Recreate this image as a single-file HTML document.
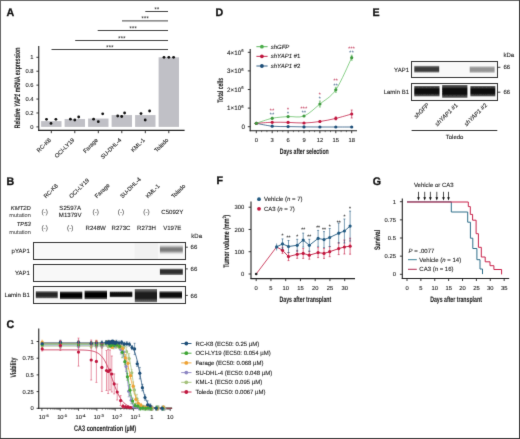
<!DOCTYPE html>
<html><head><meta charset="utf-8"><style>
html,body{margin:0;padding:0;background:#fff;}
body{width:520px;height:439px;overflow:hidden;}
svg{display:block;font-family:"Liberation Sans",sans-serif;will-change:transform;text-rendering:geometricPrecision;}
</style></head><body>
<svg width="520" height="439" viewBox="0 0 520 439">
<defs><filter id="soft" x="0" y="0" width="520" height="439" filterUnits="userSpaceOnUse" color-interpolation-filters="sRGB"><feConvolveMatrix order="3" kernelMatrix="0.00810 0.07380 0.00810 0.07380 0.67240 0.07380 0.00810 0.07380 0.00810" divisor="1" edgeMode="duplicate" preserveAlpha="true"/></filter><filter id="bl" x="-10%" y="-50%" width="120%" height="200%"><feGaussianBlur stdDeviation="0.5 0.8"/></filter><filter id="bl2" x="-10%" y="-50%" width="120%" height="200%"><feGaussianBlur stdDeviation="0.4 0.45"/></filter><linearGradient id="g0" x1="0" y1="0" x2="0" y2="1"><stop offset="0" stop-color="#767676" stop-opacity="0.35"/><stop offset="0.3" stop-color="#767676" stop-opacity="1"/><stop offset="0.7" stop-color="#767676" stop-opacity="1"/><stop offset="1" stop-color="#767676" stop-opacity="0.35"/></linearGradient><linearGradient id="g1" x1="0" y1="0" x2="0" y2="1"><stop offset="0" stop-color="#2e2e2e" stop-opacity="0.5"/><stop offset="0.3" stop-color="#2e2e2e" stop-opacity="1"/><stop offset="0.7" stop-color="#2e2e2e" stop-opacity="1"/><stop offset="1" stop-color="#2e2e2e" stop-opacity="0.5"/></linearGradient><linearGradient id="g2" x1="0" y1="0" x2="0" y2="1"><stop offset="0" stop-color="#262626" stop-opacity="0.55"/><stop offset="0.3" stop-color="#262626" stop-opacity="1"/><stop offset="0.7" stop-color="#262626" stop-opacity="1"/><stop offset="1" stop-color="#262626" stop-opacity="0.55"/></linearGradient><linearGradient id="g3" x1="0" y1="0" x2="0" y2="1"><stop offset="0" stop-color="#050505" stop-opacity="0.55"/><stop offset="0.3" stop-color="#050505" stop-opacity="1"/><stop offset="0.7" stop-color="#050505" stop-opacity="1"/><stop offset="1" stop-color="#050505" stop-opacity="0.55"/></linearGradient><linearGradient id="g4" x1="0" y1="0" x2="0" y2="1"><stop offset="0" stop-color="#050505" stop-opacity="0.55"/><stop offset="0.3" stop-color="#050505" stop-opacity="1"/><stop offset="0.7" stop-color="#050505" stop-opacity="1"/><stop offset="1" stop-color="#050505" stop-opacity="0.55"/></linearGradient><linearGradient id="g5" x1="0" y1="0" x2="0" y2="1"><stop offset="0" stop-color="#080808" stop-opacity="0.55"/><stop offset="0.3" stop-color="#080808" stop-opacity="1"/><stop offset="0.7" stop-color="#080808" stop-opacity="1"/><stop offset="1" stop-color="#080808" stop-opacity="0.55"/></linearGradient><linearGradient id="g6" x1="0" y1="0" x2="0" y2="1"><stop offset="0" stop-color="#1e1e1e" stop-opacity="0.55"/><stop offset="0.3" stop-color="#1e1e1e" stop-opacity="1"/><stop offset="0.7" stop-color="#1e1e1e" stop-opacity="1"/><stop offset="1" stop-color="#1e1e1e" stop-opacity="0.55"/></linearGradient><linearGradient id="g7" x1="0" y1="0" x2="0" y2="1"><stop offset="0" stop-color="#0a0a0a" stop-opacity="0.55"/><stop offset="0.3" stop-color="#0a0a0a" stop-opacity="1"/><stop offset="0.7" stop-color="#0a0a0a" stop-opacity="1"/><stop offset="1" stop-color="#0a0a0a" stop-opacity="0.55"/></linearGradient><linearGradient id="g8" x1="0" y1="0" x2="0" y2="1"><stop offset="0" stop-color="#3a3a3a" stop-opacity="0.5"/><stop offset="0.3" stop-color="#3a3a3a" stop-opacity="1"/><stop offset="0.7" stop-color="#3a3a3a" stop-opacity="1"/><stop offset="1" stop-color="#3a3a3a" stop-opacity="0.5"/></linearGradient><linearGradient id="g9" x1="0" y1="0" x2="0" y2="1"><stop offset="0" stop-color="#959595" stop-opacity="0.5"/><stop offset="0.3" stop-color="#959595" stop-opacity="1"/><stop offset="0.7" stop-color="#959595" stop-opacity="1"/><stop offset="1" stop-color="#959595" stop-opacity="0.5"/></linearGradient><linearGradient id="g10" x1="0" y1="0" x2="0" y2="1"><stop offset="0" stop-color="#080808" stop-opacity="0.55"/><stop offset="0.3" stop-color="#080808" stop-opacity="1"/><stop offset="0.7" stop-color="#080808" stop-opacity="1"/><stop offset="1" stop-color="#080808" stop-opacity="0.55"/></linearGradient><linearGradient id="g11" x1="0" y1="0" x2="0" y2="1"><stop offset="0" stop-color="#080808" stop-opacity="0.55"/><stop offset="0.3" stop-color="#080808" stop-opacity="1"/><stop offset="0.7" stop-color="#080808" stop-opacity="1"/><stop offset="1" stop-color="#080808" stop-opacity="0.55"/></linearGradient><linearGradient id="g12" x1="0" y1="0" x2="0" y2="1"><stop offset="0" stop-color="#080808" stop-opacity="0.55"/><stop offset="0.3" stop-color="#080808" stop-opacity="1"/><stop offset="0.7" stop-color="#080808" stop-opacity="1"/><stop offset="1" stop-color="#080808" stop-opacity="0.55"/></linearGradient></defs>
<g filter="url(#soft)">
<rect x="0" y="0" width="520" height="439" fill="#fff"/>
<text x="0.00" y="0.00" font-size="11" text-anchor="start" fill="#111" font-weight="bold" font-style="normal" transform="translate(6.40,15.90) scale(0.97,1)" stroke="#111" stroke-width="0.3">A</text>
<line x1="38.75" y1="46.00" x2="38.75" y2="130.90" stroke="#222" stroke-width="1.1"/>
<line x1="38.20" y1="130.40" x2="184.60" y2="130.40" stroke="#222" stroke-width="1.1"/>
<line x1="36.40" y1="126.90" x2="38.80" y2="126.90" stroke="#222" stroke-width="0.9"/>
<text x="33.60" y="129.00" font-size="5.8" text-anchor="end" fill="#222" font-weight="normal" font-style="normal" stroke="#222" stroke-width="0.1">0</text>
<line x1="36.40" y1="112.98" x2="38.80" y2="112.98" stroke="#222" stroke-width="0.9"/>
<text x="33.60" y="115.08" font-size="5.8" text-anchor="end" fill="#222" font-weight="normal" font-style="normal" stroke="#222" stroke-width="0.1">0.2</text>
<line x1="36.40" y1="99.06" x2="38.80" y2="99.06" stroke="#222" stroke-width="0.9"/>
<text x="33.60" y="101.16" font-size="5.8" text-anchor="end" fill="#222" font-weight="normal" font-style="normal" stroke="#222" stroke-width="0.1">0.4</text>
<line x1="36.40" y1="85.14" x2="38.80" y2="85.14" stroke="#222" stroke-width="0.9"/>
<text x="33.60" y="87.24" font-size="5.8" text-anchor="end" fill="#222" font-weight="normal" font-style="normal" stroke="#222" stroke-width="0.1">0.6</text>
<line x1="36.40" y1="71.22" x2="38.80" y2="71.22" stroke="#222" stroke-width="0.9"/>
<text x="33.60" y="73.32" font-size="5.8" text-anchor="end" fill="#222" font-weight="normal" font-style="normal" stroke="#222" stroke-width="0.1">0.8</text>
<line x1="36.40" y1="57.30" x2="38.80" y2="57.30" stroke="#222" stroke-width="0.9"/>
<text x="33.60" y="59.40" font-size="5.8" text-anchor="end" fill="#222" font-weight="normal" font-style="normal" stroke="#222" stroke-width="0.1">1</text>
<text x="0.00" y="0.00" font-size="8" text-anchor="middle" fill="#222" font-weight="bold" font-style="normal" transform="translate(19.60,88.00) rotate(-90) scale(0.65,1)" stroke="#222" stroke-width="0.08">Relative <tspan font-style="italic">YAP1</tspan> mRNA expression</text>
<rect x="41.10" y="121.12" width="20.40" height="5.78" fill="#c0c0c6" stroke="none" stroke-width="1"/>
<line x1="51.30" y1="130.30" x2="51.30" y2="133.20" stroke="#222" stroke-width="0.9"/>
<text x="0.00" y="0.00" font-size="5.8" text-anchor="end" fill="#222" font-weight="normal" font-style="normal" transform="translate(51.40,140.40) rotate(-45)" stroke="#222" stroke-width="0.1">RC-K8</text>
<rect x="64.60" y="119.04" width="20.40" height="7.86" fill="#c0c0c6" stroke="none" stroke-width="1"/>
<line x1="74.80" y1="130.30" x2="74.80" y2="133.20" stroke="#222" stroke-width="0.9"/>
<text x="0.00" y="0.00" font-size="5.8" text-anchor="end" fill="#222" font-weight="normal" font-style="normal" transform="translate(74.90,140.40) rotate(-45)" stroke="#222" stroke-width="0.1">OCI-LY19</text>
<rect x="88.10" y="118.55" width="20.40" height="8.35" fill="#c0c0c6" stroke="none" stroke-width="1"/>
<line x1="98.30" y1="130.30" x2="98.30" y2="133.20" stroke="#222" stroke-width="0.9"/>
<text x="0.00" y="0.00" font-size="5.8" text-anchor="end" fill="#222" font-weight="normal" font-style="normal" transform="translate(98.40,140.40) rotate(-45)" stroke="#222" stroke-width="0.1">Farage</text>
<rect x="111.60" y="115.07" width="20.40" height="11.83" fill="#c0c0c6" stroke="none" stroke-width="1"/>
<line x1="121.80" y1="130.30" x2="121.80" y2="133.20" stroke="#222" stroke-width="0.9"/>
<text x="0.00" y="0.00" font-size="5.8" text-anchor="end" fill="#222" font-weight="normal" font-style="normal" transform="translate(121.90,140.40) rotate(-45)" stroke="#222" stroke-width="0.1">SU-DHL-4</text>
<rect x="135.10" y="115.07" width="20.40" height="11.83" fill="#c0c0c6" stroke="none" stroke-width="1"/>
<line x1="145.30" y1="130.30" x2="145.30" y2="133.20" stroke="#222" stroke-width="0.9"/>
<text x="0.00" y="0.00" font-size="5.8" text-anchor="end" fill="#222" font-weight="normal" font-style="normal" transform="translate(145.40,140.40) rotate(-45)" stroke="#222" stroke-width="0.1">KML-1</text>
<rect x="158.60" y="57.30" width="20.40" height="69.60" fill="#c0c0c6" stroke="none" stroke-width="1"/>
<line x1="168.80" y1="130.30" x2="168.80" y2="133.20" stroke="#222" stroke-width="0.9"/>
<text x="0.00" y="0.00" font-size="5.8" text-anchor="end" fill="#222" font-weight="normal" font-style="normal" transform="translate(168.90,140.40) rotate(-45)" stroke="#222" stroke-width="0.1">Toledo</text>
<circle cx="46.50" cy="119.30" r="1.4" fill="#111"/>
<circle cx="51.00" cy="123.40" r="1.4" fill="#111"/>
<circle cx="55.90" cy="119.30" r="1.4" fill="#111"/>
<circle cx="70.40" cy="119.20" r="1.4" fill="#111"/>
<circle cx="74.80" cy="120.00" r="1.4" fill="#111"/>
<circle cx="78.70" cy="117.00" r="1.4" fill="#111"/>
<circle cx="93.60" cy="119.20" r="1.4" fill="#111"/>
<circle cx="98.30" cy="121.70" r="1.4" fill="#111"/>
<circle cx="102.70" cy="113.80" r="1.4" fill="#111"/>
<circle cx="117.70" cy="116.00" r="1.4" fill="#111"/>
<circle cx="121.70" cy="116.50" r="1.4" fill="#111"/>
<circle cx="124.60" cy="113.00" r="1.4" fill="#111"/>
<circle cx="141.00" cy="113.60" r="1.4" fill="#111"/>
<circle cx="145.20" cy="120.00" r="1.4" fill="#111"/>
<circle cx="149.60" cy="111.00" r="1.4" fill="#111"/>
<circle cx="164.00" cy="57.30" r="1.4" fill="#111"/>
<circle cx="168.80" cy="57.30" r="1.4" fill="#111"/>
<circle cx="173.60" cy="57.30" r="1.4" fill="#111"/>
<line x1="145.30" y1="11.50" x2="168.00" y2="11.50" stroke="#444" stroke-width="1"/>
<text x="156.95" y="10.90" font-size="5.5" text-anchor="middle" fill="#333" font-weight="normal" font-style="normal" letter-spacing="0.35" stroke="#333" stroke-width="0.1">**</text>
<line x1="122.00" y1="20.90" x2="168.00" y2="20.90" stroke="#444" stroke-width="1"/>
<text x="145.30" y="20.30" font-size="5.5" text-anchor="middle" fill="#333" font-weight="normal" font-style="normal" letter-spacing="0.35" stroke="#333" stroke-width="0.1">***</text>
<line x1="97.70" y1="30.50" x2="168.00" y2="30.50" stroke="#444" stroke-width="1"/>
<text x="133.15" y="29.90" font-size="5.5" text-anchor="middle" fill="#333" font-weight="normal" font-style="normal" letter-spacing="0.35" stroke="#333" stroke-width="0.1">***</text>
<line x1="75.20" y1="40.50" x2="168.00" y2="40.50" stroke="#444" stroke-width="1"/>
<text x="121.90" y="39.90" font-size="5.5" text-anchor="middle" fill="#333" font-weight="normal" font-style="normal" letter-spacing="0.35" stroke="#333" stroke-width="0.1">***</text>
<line x1="51.50" y1="49.50" x2="168.00" y2="49.50" stroke="#444" stroke-width="1"/>
<text x="110.05" y="48.90" font-size="5.5" text-anchor="middle" fill="#333" font-weight="normal" font-style="normal" letter-spacing="0.35" stroke="#333" stroke-width="0.1">***</text>
<text x="0.00" y="0.00" font-size="11" text-anchor="start" fill="#111" font-weight="bold" font-style="normal" transform="translate(6.40,184.50) scale(0.97,1)" stroke="#111" stroke-width="0.3">B</text>
<text x="0.00" y="0.00" font-size="5.8" text-anchor="start" fill="#222" font-weight="normal" font-style="normal" transform="translate(46.00,198.60) rotate(-45)" stroke="#222" stroke-width="0.1">RC-K8</text>
<text x="0.00" y="0.00" font-size="5.8" text-anchor="start" fill="#222" font-weight="normal" font-style="normal" transform="translate(71.60,198.60) rotate(-45)" stroke="#222" stroke-width="0.1">OCI-LY19</text>
<text x="0.00" y="0.00" font-size="5.8" text-anchor="start" fill="#222" font-weight="normal" font-style="normal" transform="translate(97.10,198.60) rotate(-45)" stroke="#222" stroke-width="0.1">Farage</text>
<text x="0.00" y="0.00" font-size="5.8" text-anchor="start" fill="#222" font-weight="normal" font-style="normal" transform="translate(122.40,198.60) rotate(-45)" stroke="#222" stroke-width="0.1">SU-DHL-4</text>
<text x="0.00" y="0.00" font-size="5.8" text-anchor="start" fill="#222" font-weight="normal" font-style="normal" transform="translate(147.90,198.60) rotate(-45)" stroke="#222" stroke-width="0.1">KML-1</text>
<text x="0.00" y="0.00" font-size="5.8" text-anchor="start" fill="#222" font-weight="normal" font-style="normal" transform="translate(173.70,198.60) rotate(-45)" stroke="#222" stroke-width="0.1">Toledo</text>
<text x="30.80" y="210.00" font-size="5.9" text-anchor="end" fill="#222" font-weight="normal" font-style="italic" stroke="#222" stroke-width="0.1">KMT2D</text>
<text x="30.80" y="217.30" font-size="5.6" text-anchor="end" fill="#555" font-weight="normal" font-style="normal" stroke="#555" stroke-width="0.1">mutation</text>
<text x="30.80" y="226.30" font-size="5.9" text-anchor="end" fill="#222" font-weight="normal" font-style="italic" stroke="#222" stroke-width="0.1">TP53</text>
<text x="30.80" y="234.30" font-size="5.6" text-anchor="end" fill="#555" font-weight="normal" font-style="normal" stroke="#555" stroke-width="0.1">mutation</text>
<text x="44.60" y="214.00" font-size="6.4" text-anchor="middle" fill="#555" font-weight="normal" font-style="normal" stroke="#555" stroke-width="0.1">(-)</text>
<text x="95.70" y="214.00" font-size="6.4" text-anchor="middle" fill="#555" font-weight="normal" font-style="normal" stroke="#555" stroke-width="0.1">(-)</text>
<text x="121.00" y="214.00" font-size="6.4" text-anchor="middle" fill="#555" font-weight="normal" font-style="normal" stroke="#555" stroke-width="0.1">(-)</text>
<text x="146.50" y="214.00" font-size="6.4" text-anchor="middle" fill="#555" font-weight="normal" font-style="normal" stroke="#555" stroke-width="0.1">(-)</text>
<text x="172.30" y="214.00" font-size="6.1" text-anchor="middle" fill="#222" font-weight="normal" font-style="normal" stroke="#222" stroke-width="0.1">C5092Y</text>
<text x="70.20" y="210.00" font-size="6.1" text-anchor="middle" fill="#222" font-weight="normal" font-style="normal" stroke="#222" stroke-width="0.1">S2597A</text>
<text x="70.20" y="217.30" font-size="6.1" text-anchor="middle" fill="#222" font-weight="normal" font-style="normal" stroke="#222" stroke-width="0.1">M1379V</text>
<text x="44.60" y="230.40" font-size="6.4" text-anchor="middle" fill="#555" font-weight="normal" font-style="normal" stroke="#555" stroke-width="0.1">(-)</text>
<text x="70.20" y="230.40" font-size="6.4" text-anchor="middle" fill="#555" font-weight="normal" font-style="normal" stroke="#555" stroke-width="0.1">(-)</text>
<text x="95.70" y="230.40" font-size="6.1" text-anchor="middle" fill="#222" font-weight="normal" font-style="normal" stroke="#222" stroke-width="0.1">R248W</text>
<text x="121.00" y="230.40" font-size="6.1" text-anchor="middle" fill="#222" font-weight="normal" font-style="normal" stroke="#222" stroke-width="0.1">R273C</text>
<text x="146.50" y="230.40" font-size="6.1" text-anchor="middle" fill="#222" font-weight="normal" font-style="normal" stroke="#222" stroke-width="0.1">R273H</text>
<text x="172.30" y="230.40" font-size="6.1" text-anchor="middle" fill="#222" font-weight="normal" font-style="normal" stroke="#222" stroke-width="0.1">V197E</text>
<rect x="33.50" y="242.50" width="152.00" height="17.00" fill="#f8f8f8" stroke="#333" stroke-width="1"/>
<text x="29.80" y="253.10" font-size="6" text-anchor="end" fill="#222" font-weight="normal" font-style="normal" stroke="#222" stroke-width="0.1">pYAP1</text>
<line x1="185.60" y1="247.20" x2="187.80" y2="247.20" stroke="#222" stroke-width="0.9"/>
<text x="190.60" y="249.30" font-size="6" text-anchor="start" fill="#222" font-weight="normal" font-style="normal" stroke="#222" stroke-width="0.1">66</text>
<rect x="33.50" y="264.50" width="152.00" height="17.00" fill="#f8f8f8" stroke="#333" stroke-width="1"/>
<text x="29.80" y="275.10" font-size="6" text-anchor="end" fill="#222" font-weight="normal" font-style="normal" stroke="#222" stroke-width="0.1">YAP1</text>
<line x1="185.60" y1="268.90" x2="187.80" y2="268.90" stroke="#222" stroke-width="0.9"/>
<text x="190.60" y="271.00" font-size="6" text-anchor="start" fill="#222" font-weight="normal" font-style="normal" stroke="#222" stroke-width="0.1">66</text>
<rect x="33.50" y="286.50" width="152.00" height="17.00" fill="#f8f8f8" stroke="#333" stroke-width="1"/>
<text x="29.80" y="297.10" font-size="6" text-anchor="end" fill="#222" font-weight="normal" font-style="normal" stroke="#222" stroke-width="0.1">Lamin B1</text>
<line x1="185.60" y1="295.40" x2="187.80" y2="295.40" stroke="#222" stroke-width="0.9"/>
<text x="190.60" y="297.50" font-size="6" text-anchor="start" fill="#222" font-weight="normal" font-style="normal" stroke="#222" stroke-width="0.1">66</text>
<text x="191.30" y="238.40" font-size="6" text-anchor="start" fill="#222" font-weight="normal" font-style="normal" stroke="#222" stroke-width="0.1">kDa</text>
<rect x="134.50" y="243.00" width="23.50" height="16.00" fill="#f1f1f1" stroke="none" stroke-width="1"/>
<rect x="159.90" y="246.00" width="22.90" height="7.00" fill="url(#g0)" stroke="none" stroke-width="1" filter="url(#bl)"/>
<rect x="159.90" y="268.60" width="22.90" height="6.40" fill="url(#g1)" stroke="none" stroke-width="1" filter="url(#bl2)"/>
<rect x="35.80" y="291.20" width="21.90" height="7.10" fill="url(#g2)" stroke="none" stroke-width="1" filter="url(#bl2)"/>
<rect x="60.00" y="291.50" width="22.30" height="7.70" fill="url(#g3)" stroke="none" stroke-width="1" filter="url(#bl2)"/>
<rect x="84.60" y="290.60" width="22.40" height="8.60" fill="url(#g4)" stroke="none" stroke-width="1" filter="url(#bl2)"/>
<rect x="109.80" y="291.50" width="22.50" height="5.70" fill="url(#g5)" stroke="none" stroke-width="1" filter="url(#bl2)"/>
<rect x="134.80" y="289.00" width="22.20" height="13.20" fill="url(#g6)" stroke="none" stroke-width="1" filter="url(#bl2)"/>
<rect x="159.50" y="291.30" width="22.50" height="7.30" fill="url(#g7)" stroke="none" stroke-width="1" filter="url(#bl2)"/>
<text x="0.00" y="0.00" font-size="11" text-anchor="start" fill="#111" font-weight="bold" font-style="normal" transform="translate(6.50,328.00) scale(0.97,1)" stroke="#111" stroke-width="0.3">C</text>
<line x1="38.75" y1="328.50" x2="38.75" y2="408.90" stroke="#222" stroke-width="1.1"/>
<line x1="38.20" y1="408.30" x2="172.20" y2="408.30" stroke="#222" stroke-width="1.1"/>
<line x1="36.60" y1="408.30" x2="39.00" y2="408.30" stroke="#222" stroke-width="0.9"/>
<text x="33.80" y="410.40" font-size="5.8" text-anchor="end" fill="#222" font-weight="normal" font-style="normal" stroke="#222" stroke-width="0.1">0</text>
<line x1="36.60" y1="391.60" x2="39.00" y2="391.60" stroke="#222" stroke-width="0.9"/>
<text x="33.80" y="393.70" font-size="5.8" text-anchor="end" fill="#222" font-weight="normal" font-style="normal" stroke="#222" stroke-width="0.1">0.25</text>
<line x1="36.60" y1="374.90" x2="39.00" y2="374.90" stroke="#222" stroke-width="0.9"/>
<text x="33.80" y="377.00" font-size="5.8" text-anchor="end" fill="#222" font-weight="normal" font-style="normal" stroke="#222" stroke-width="0.1">0.5</text>
<line x1="36.60" y1="358.20" x2="39.00" y2="358.20" stroke="#222" stroke-width="0.9"/>
<text x="33.80" y="360.30" font-size="5.8" text-anchor="end" fill="#222" font-weight="normal" font-style="normal" stroke="#222" stroke-width="0.1">0.75</text>
<line x1="36.60" y1="341.50" x2="39.00" y2="341.50" stroke="#222" stroke-width="0.9"/>
<text x="33.80" y="343.60" font-size="5.8" text-anchor="end" fill="#222" font-weight="normal" font-style="normal" stroke="#222" stroke-width="0.1">1</text>
<line x1="41.90" y1="408.40" x2="41.90" y2="410.80" stroke="#222" stroke-width="0.8"/>
<line x1="47.42" y1="408.40" x2="47.42" y2="409.80" stroke="#222" stroke-width="0.5"/>
<line x1="50.65" y1="408.40" x2="50.65" y2="409.80" stroke="#222" stroke-width="0.5"/>
<line x1="52.94" y1="408.40" x2="52.94" y2="409.80" stroke="#222" stroke-width="0.5"/>
<line x1="54.71" y1="408.40" x2="54.71" y2="409.80" stroke="#222" stroke-width="0.5"/>
<line x1="56.16" y1="408.40" x2="56.16" y2="409.80" stroke="#222" stroke-width="0.5"/>
<line x1="57.39" y1="408.40" x2="57.39" y2="409.80" stroke="#222" stroke-width="0.5"/>
<line x1="58.45" y1="408.40" x2="58.45" y2="409.80" stroke="#222" stroke-width="0.5"/>
<line x1="59.39" y1="408.40" x2="59.39" y2="409.80" stroke="#222" stroke-width="0.5"/>
<text x="38.80" y="419.30" font-size="5.8" text-anchor="start" fill="#222" font-weight="normal" font-style="normal" stroke="#222" stroke-width="0.1">10<tspan font-size="4" dy="-2.2">-6</tspan></text>
<line x1="60.23" y1="408.40" x2="60.23" y2="410.80" stroke="#222" stroke-width="0.8"/>
<line x1="65.75" y1="408.40" x2="65.75" y2="409.80" stroke="#222" stroke-width="0.5"/>
<line x1="68.98" y1="408.40" x2="68.98" y2="409.80" stroke="#222" stroke-width="0.5"/>
<line x1="71.27" y1="408.40" x2="71.27" y2="409.80" stroke="#222" stroke-width="0.5"/>
<line x1="73.04" y1="408.40" x2="73.04" y2="409.80" stroke="#222" stroke-width="0.5"/>
<line x1="74.49" y1="408.40" x2="74.49" y2="409.80" stroke="#222" stroke-width="0.5"/>
<line x1="75.72" y1="408.40" x2="75.72" y2="409.80" stroke="#222" stroke-width="0.5"/>
<line x1="76.78" y1="408.40" x2="76.78" y2="409.80" stroke="#222" stroke-width="0.5"/>
<line x1="77.72" y1="408.40" x2="77.72" y2="409.80" stroke="#222" stroke-width="0.5"/>
<text x="57.13" y="419.30" font-size="5.8" text-anchor="start" fill="#222" font-weight="normal" font-style="normal" stroke="#222" stroke-width="0.1">10<tspan font-size="4" dy="-2.2">-5</tspan></text>
<line x1="78.56" y1="408.40" x2="78.56" y2="410.80" stroke="#222" stroke-width="0.8"/>
<line x1="84.08" y1="408.40" x2="84.08" y2="409.80" stroke="#222" stroke-width="0.5"/>
<line x1="87.31" y1="408.40" x2="87.31" y2="409.80" stroke="#222" stroke-width="0.5"/>
<line x1="89.60" y1="408.40" x2="89.60" y2="409.80" stroke="#222" stroke-width="0.5"/>
<line x1="91.37" y1="408.40" x2="91.37" y2="409.80" stroke="#222" stroke-width="0.5"/>
<line x1="92.82" y1="408.40" x2="92.82" y2="409.80" stroke="#222" stroke-width="0.5"/>
<line x1="94.05" y1="408.40" x2="94.05" y2="409.80" stroke="#222" stroke-width="0.5"/>
<line x1="95.11" y1="408.40" x2="95.11" y2="409.80" stroke="#222" stroke-width="0.5"/>
<line x1="96.05" y1="408.40" x2="96.05" y2="409.80" stroke="#222" stroke-width="0.5"/>
<text x="75.46" y="419.30" font-size="5.8" text-anchor="start" fill="#222" font-weight="normal" font-style="normal" stroke="#222" stroke-width="0.1">10<tspan font-size="4" dy="-2.2">-4</tspan></text>
<line x1="96.89" y1="408.40" x2="96.89" y2="410.80" stroke="#222" stroke-width="0.8"/>
<line x1="102.41" y1="408.40" x2="102.41" y2="409.80" stroke="#222" stroke-width="0.5"/>
<line x1="105.64" y1="408.40" x2="105.64" y2="409.80" stroke="#222" stroke-width="0.5"/>
<line x1="107.93" y1="408.40" x2="107.93" y2="409.80" stroke="#222" stroke-width="0.5"/>
<line x1="109.70" y1="408.40" x2="109.70" y2="409.80" stroke="#222" stroke-width="0.5"/>
<line x1="111.15" y1="408.40" x2="111.15" y2="409.80" stroke="#222" stroke-width="0.5"/>
<line x1="112.38" y1="408.40" x2="112.38" y2="409.80" stroke="#222" stroke-width="0.5"/>
<line x1="113.44" y1="408.40" x2="113.44" y2="409.80" stroke="#222" stroke-width="0.5"/>
<line x1="114.38" y1="408.40" x2="114.38" y2="409.80" stroke="#222" stroke-width="0.5"/>
<text x="93.79" y="419.30" font-size="5.8" text-anchor="start" fill="#222" font-weight="normal" font-style="normal" stroke="#222" stroke-width="0.1">10<tspan font-size="4" dy="-2.2">-3</tspan></text>
<line x1="115.22" y1="408.40" x2="115.22" y2="410.80" stroke="#222" stroke-width="0.8"/>
<line x1="120.74" y1="408.40" x2="120.74" y2="409.80" stroke="#222" stroke-width="0.5"/>
<line x1="123.97" y1="408.40" x2="123.97" y2="409.80" stroke="#222" stroke-width="0.5"/>
<line x1="126.26" y1="408.40" x2="126.26" y2="409.80" stroke="#222" stroke-width="0.5"/>
<line x1="128.03" y1="408.40" x2="128.03" y2="409.80" stroke="#222" stroke-width="0.5"/>
<line x1="129.48" y1="408.40" x2="129.48" y2="409.80" stroke="#222" stroke-width="0.5"/>
<line x1="130.71" y1="408.40" x2="130.71" y2="409.80" stroke="#222" stroke-width="0.5"/>
<line x1="131.77" y1="408.40" x2="131.77" y2="409.80" stroke="#222" stroke-width="0.5"/>
<line x1="132.71" y1="408.40" x2="132.71" y2="409.80" stroke="#222" stroke-width="0.5"/>
<text x="112.12" y="419.30" font-size="5.8" text-anchor="start" fill="#222" font-weight="normal" font-style="normal" stroke="#222" stroke-width="0.1">10<tspan font-size="4" dy="-2.2">-2</tspan></text>
<line x1="133.55" y1="408.40" x2="133.55" y2="410.80" stroke="#222" stroke-width="0.8"/>
<line x1="139.07" y1="408.40" x2="139.07" y2="409.80" stroke="#222" stroke-width="0.5"/>
<line x1="142.30" y1="408.40" x2="142.30" y2="409.80" stroke="#222" stroke-width="0.5"/>
<line x1="144.59" y1="408.40" x2="144.59" y2="409.80" stroke="#222" stroke-width="0.5"/>
<line x1="146.36" y1="408.40" x2="146.36" y2="409.80" stroke="#222" stroke-width="0.5"/>
<line x1="147.81" y1="408.40" x2="147.81" y2="409.80" stroke="#222" stroke-width="0.5"/>
<line x1="149.04" y1="408.40" x2="149.04" y2="409.80" stroke="#222" stroke-width="0.5"/>
<line x1="150.10" y1="408.40" x2="150.10" y2="409.80" stroke="#222" stroke-width="0.5"/>
<line x1="151.04" y1="408.40" x2="151.04" y2="409.80" stroke="#222" stroke-width="0.5"/>
<text x="130.45" y="419.30" font-size="5.8" text-anchor="start" fill="#222" font-weight="normal" font-style="normal" stroke="#222" stroke-width="0.1">10<tspan font-size="4" dy="-2.2">-1</tspan></text>
<line x1="151.88" y1="408.40" x2="151.88" y2="410.80" stroke="#222" stroke-width="0.8"/>
<line x1="157.40" y1="408.40" x2="157.40" y2="409.80" stroke="#222" stroke-width="0.5"/>
<line x1="160.63" y1="408.40" x2="160.63" y2="409.80" stroke="#222" stroke-width="0.5"/>
<line x1="162.92" y1="408.40" x2="162.92" y2="409.80" stroke="#222" stroke-width="0.5"/>
<line x1="164.69" y1="408.40" x2="164.69" y2="409.80" stroke="#222" stroke-width="0.5"/>
<line x1="166.14" y1="408.40" x2="166.14" y2="409.80" stroke="#222" stroke-width="0.5"/>
<line x1="167.37" y1="408.40" x2="167.37" y2="409.80" stroke="#222" stroke-width="0.5"/>
<line x1="168.43" y1="408.40" x2="168.43" y2="409.80" stroke="#222" stroke-width="0.5"/>
<line x1="169.37" y1="408.40" x2="169.37" y2="409.80" stroke="#222" stroke-width="0.5"/>
<text x="151.88" y="419.30" font-size="5.8" text-anchor="middle" fill="#222" font-weight="normal" font-style="normal" stroke="#222" stroke-width="0.1">1</text>
<line x1="170.21" y1="408.40" x2="170.21" y2="410.80" stroke="#222" stroke-width="0.8"/>
<text x="170.21" y="419.30" font-size="5.8" text-anchor="middle" fill="#222" font-weight="normal" font-style="normal" stroke="#222" stroke-width="0.1">10</text>
<text x="0.00" y="0.00" font-size="8" text-anchor="middle" fill="#222" font-weight="bold" font-style="normal" transform="translate(105.10,430.60) scale(0.69,1)" stroke="#222" stroke-width="0.08">CA3 concentration (µM)</text>
<text x="0.00" y="0.00" font-size="8" text-anchor="middle" fill="#222" font-weight="bold" font-style="normal" transform="translate(16.40,367.60) rotate(-90) scale(0.65,1)" stroke="#222" stroke-width="0.08">Viability</text>
<path d="M42.00,346.18 L42.50,346.18 L43.00,346.18 L43.50,346.18 L44.00,346.18 L44.50,346.18 L45.00,346.18 L45.50,346.18 L46.00,346.18 L46.50,346.18 L47.00,346.18 L47.50,346.18 L48.00,346.18 L48.50,346.18 L49.00,346.18 L49.50,346.18 L50.00,346.18 L50.50,346.18 L51.00,346.18 L51.50,346.18 L52.00,346.18 L52.50,346.18 L53.00,346.18 L53.50,346.18 L54.00,346.18 L54.50,346.18 L55.00,346.18 L55.50,346.18 L56.00,346.18 L56.50,346.18 L57.00,346.18 L57.50,346.18 L58.00,346.18 L58.50,346.18 L59.00,346.18 L59.50,346.18 L60.00,346.18 L60.50,346.18 L61.00,346.18 L61.50,346.18 L62.00,346.18 L62.50,346.18 L63.00,346.18 L63.50,346.18 L64.00,346.18 L64.50,346.18 L65.00,346.18 L65.50,346.18 L66.00,346.18 L66.50,346.18 L67.00,346.18 L67.50,346.18 L68.00,346.18 L68.50,346.18 L69.00,346.18 L69.50,346.18 L70.00,346.18 L70.50,346.18 L71.00,346.18 L71.50,346.18 L72.00,346.18 L72.50,346.18 L73.00,346.18 L73.50,346.18 L74.00,346.18 L74.50,346.18 L75.00,346.18 L75.50,346.18 L76.00,346.18 L76.50,346.18 L77.00,346.18 L77.50,346.18 L78.00,346.18 L78.50,346.18 L79.00,346.18 L79.50,346.18 L80.00,346.18 L80.50,346.18 L81.00,346.18 L81.50,346.18 L82.00,346.18 L82.50,346.18 L83.00,346.18 L83.50,346.18 L84.00,346.18 L84.50,346.18 L85.00,346.18 L85.50,346.18 L86.00,346.18 L86.50,346.18 L87.00,346.18 L87.50,346.18 L88.00,346.18 L88.50,346.18 L89.00,346.18 L89.50,346.18 L90.00,346.18 L90.50,346.18 L91.00,346.18 L91.50,346.18 L92.00,346.18 L92.50,346.18 L93.00,346.18 L93.50,346.18 L94.00,346.18 L94.50,346.18 L95.00,346.18 L95.50,346.18 L96.00,346.18 L96.50,346.18 L97.00,346.18 L97.50,346.18 L98.00,346.18 L98.50,346.18 L99.00,346.18 L99.50,346.18 L100.00,346.18 L100.50,346.18 L101.00,346.18 L101.50,346.18 L102.00,346.18 L102.50,346.18 L103.00,346.18 L103.50,346.18 L104.00,346.18 L104.50,346.18 L105.00,346.18 L105.50,346.18 L106.00,346.18 L106.50,346.18 L107.00,346.18 L107.50,346.18 L108.00,346.18 L108.50,346.18 L109.00,346.18 L109.50,346.18 L110.00,346.18 L110.50,346.18 L111.00,346.18 L111.50,346.18 L112.00,346.18 L112.50,346.19 L113.00,346.19 L113.50,346.19 L114.00,346.19 L114.50,346.20 L115.00,346.20 L115.50,346.21 L116.00,346.22 L116.50,346.23 L117.00,346.24 L117.50,346.26 L118.00,346.28 L118.50,346.31 L119.00,346.34 L119.50,346.38 L120.00,346.43 L120.50,346.49 L121.00,346.57 L121.50,346.67 L122.00,346.78 L122.50,346.93 L123.00,347.12 L123.50,347.34 L124.00,347.62 L124.50,347.97 L125.00,348.39 L125.50,348.91 L126.00,349.55 L126.50,350.32 L127.00,351.26 L127.50,352.38 L128.00,353.72 L128.50,355.31 L129.00,357.15 L129.50,359.28 L130.00,361.70 L130.50,364.40 L131.00,367.35 L131.50,370.52 L132.00,373.84 L132.50,377.24 L133.00,380.64 L133.50,383.96 L134.00,387.12 L134.50,390.08 L135.00,392.78 L135.50,395.19 L136.00,397.32 L136.50,399.17 L137.00,400.75 L137.50,402.09 L138.00,403.22 L138.50,404.15 L139.00,404.93 L139.50,405.56 L140.00,406.08 L140.50,406.51 L141.00,406.85 L141.50,407.13 L142.00,407.36 L142.50,407.54 L143.00,407.69 L143.50,407.81 L144.00,407.91 L144.50,407.98 L145.00,408.05 L145.50,408.10 L146.00,408.14 L146.50,408.17 L147.00,408.19 L147.50,408.22 L148.00,408.23 L148.50,408.25 L149.00,408.26 L149.50,408.26 L150.00,408.27 L150.50,408.28 L151.00,408.28 L151.50,408.29 L152.00,408.29 L152.50,408.29 L153.00,408.29 L153.50,408.29 L154.00,408.30 L154.50,408.30 L155.00,408.30 L155.50,408.30 L156.00,408.30 L156.50,408.30 L157.00,408.30 L157.50,408.30 L158.00,408.30 L158.50,408.30 L159.00,408.30 L159.50,408.30 L160.00,408.30 L160.50,408.30 L161.00,408.30 L161.50,408.30 L162.00,408.30 L162.50,408.30 L163.00,408.30 L163.50,408.30 L164.00,408.30 L164.50,408.30 L165.00,408.30 L165.50,408.30 L166.00,408.30 L166.50,408.30 L167.00,408.30 L167.50,408.30 L168.00,408.30 L168.50,408.30 L169.00,408.30 L169.50,408.30 L170.00,408.30 L170.50,408.30 L171.00,408.30 L171.50,408.30 L172.00,408.30" stroke="#a5c27c" stroke-width="0.8" fill="none" stroke-linejoin="round"/>
<path d="M42.00,345.17 L42.50,345.17 L43.00,345.17 L43.50,345.17 L44.00,345.17 L44.50,345.17 L45.00,345.17 L45.50,345.17 L46.00,345.17 L46.50,345.17 L47.00,345.17 L47.50,345.17 L48.00,345.17 L48.50,345.17 L49.00,345.17 L49.50,345.17 L50.00,345.17 L50.50,345.17 L51.00,345.17 L51.50,345.17 L52.00,345.17 L52.50,345.17 L53.00,345.17 L53.50,345.17 L54.00,345.17 L54.50,345.17 L55.00,345.17 L55.50,345.17 L56.00,345.17 L56.50,345.17 L57.00,345.17 L57.50,345.17 L58.00,345.17 L58.50,345.17 L59.00,345.17 L59.50,345.17 L60.00,345.17 L60.50,345.17 L61.00,345.17 L61.50,345.17 L62.00,345.17 L62.50,345.17 L63.00,345.17 L63.50,345.17 L64.00,345.17 L64.50,345.17 L65.00,345.17 L65.50,345.17 L66.00,345.17 L66.50,345.17 L67.00,345.17 L67.50,345.17 L68.00,345.17 L68.50,345.17 L69.00,345.17 L69.50,345.17 L70.00,345.17 L70.50,345.17 L71.00,345.17 L71.50,345.17 L72.00,345.17 L72.50,345.17 L73.00,345.17 L73.50,345.17 L74.00,345.17 L74.50,345.17 L75.00,345.17 L75.50,345.17 L76.00,345.17 L76.50,345.17 L77.00,345.17 L77.50,345.17 L78.00,345.17 L78.50,345.17 L79.00,345.17 L79.50,345.17 L80.00,345.17 L80.50,345.17 L81.00,345.17 L81.50,345.17 L82.00,345.17 L82.50,345.17 L83.00,345.17 L83.50,345.17 L84.00,345.17 L84.50,345.17 L85.00,345.17 L85.50,345.17 L86.00,345.17 L86.50,345.17 L87.00,345.17 L87.50,345.17 L88.00,345.17 L88.50,345.17 L89.00,345.17 L89.50,345.17 L90.00,345.17 L90.50,345.17 L91.00,345.17 L91.50,345.17 L92.00,345.17 L92.50,345.17 L93.00,345.17 L93.50,345.17 L94.00,345.17 L94.50,345.17 L95.00,345.17 L95.50,345.17 L96.00,345.17 L96.50,345.17 L97.00,345.17 L97.50,345.17 L98.00,345.17 L98.50,345.17 L99.00,345.17 L99.50,345.17 L100.00,345.17 L100.50,345.17 L101.00,345.17 L101.50,345.17 L102.00,345.17 L102.50,345.17 L103.00,345.17 L103.50,345.17 L104.00,345.18 L104.50,345.18 L105.00,345.18 L105.50,345.18 L106.00,345.18 L106.50,345.18 L107.00,345.18 L107.50,345.18 L108.00,345.18 L108.50,345.18 L109.00,345.19 L109.50,345.19 L110.00,345.19 L110.50,345.20 L111.00,345.20 L111.50,345.21 L112.00,345.22 L112.50,345.24 L113.00,345.25 L113.50,345.27 L114.00,345.30 L114.50,345.34 L115.00,345.38 L115.50,345.43 L116.00,345.50 L116.50,345.59 L117.00,345.70 L117.50,345.84 L118.00,346.02 L118.50,346.25 L119.00,346.53 L119.50,346.89 L120.00,347.33 L120.50,347.89 L121.00,348.58 L121.50,349.44 L122.00,350.49 L122.50,351.77 L123.00,353.32 L123.50,355.17 L124.00,357.34 L124.50,359.86 L125.00,362.72 L125.50,365.90 L126.00,369.34 L126.50,372.99 L127.00,376.74 L127.50,380.49 L128.00,384.13 L128.50,387.58 L129.00,390.75 L129.50,393.61 L130.00,396.13 L130.50,398.31 L131.00,400.15 L131.50,401.70 L132.00,402.99 L132.50,404.04 L133.00,404.89 L133.50,405.59 L134.00,406.14 L134.50,406.59 L135.00,406.94 L135.50,407.23 L136.00,407.45 L136.50,407.63 L137.00,407.77 L137.50,407.88 L138.00,407.97 L138.50,408.04 L139.00,408.10 L139.50,408.14 L140.00,408.17 L140.50,408.20 L141.00,408.22 L141.50,408.24 L142.00,408.25 L142.50,408.26 L143.00,408.27 L143.50,408.28 L144.00,408.28 L144.50,408.29 L145.00,408.29 L145.50,408.29 L146.00,408.29 L146.50,408.29 L147.00,408.30 L147.50,408.30 L148.00,408.30 L148.50,408.30 L149.00,408.30 L149.50,408.30 L150.00,408.30 L150.50,408.30 L151.00,408.30 L151.50,408.30 L152.00,408.30 L152.50,408.30 L153.00,408.30 L153.50,408.30 L154.00,408.30 L154.50,408.30 L155.00,408.30 L155.50,408.30 L156.00,408.30 L156.50,408.30 L157.00,408.30 L157.50,408.30 L158.00,408.30 L158.50,408.30 L159.00,408.30 L159.50,408.30 L160.00,408.30 L160.50,408.30 L161.00,408.30 L161.50,408.30 L162.00,408.30 L162.50,408.30 L163.00,408.30 L163.50,408.30 L164.00,408.30 L164.50,408.30 L165.00,408.30 L165.50,408.30 L166.00,408.30 L166.50,408.30 L167.00,408.30 L167.50,408.30 L168.00,408.30 L168.50,408.30 L169.00,408.30 L169.50,408.30 L170.00,408.30 L170.50,408.30 L171.00,408.30 L171.50,408.30 L172.00,408.30" stroke="#8d86c3" stroke-width="0.8" fill="none" stroke-linejoin="round"/>
<path d="M42.00,343.17 L42.50,343.17 L43.00,343.17 L43.50,343.17 L44.00,343.17 L44.50,343.17 L45.00,343.17 L45.50,343.17 L46.00,343.17 L46.50,343.17 L47.00,343.17 L47.50,343.17 L48.00,343.17 L48.50,343.17 L49.00,343.17 L49.50,343.17 L50.00,343.17 L50.50,343.17 L51.00,343.17 L51.50,343.17 L52.00,343.17 L52.50,343.17 L53.00,343.17 L53.50,343.17 L54.00,343.17 L54.50,343.17 L55.00,343.17 L55.50,343.17 L56.00,343.17 L56.50,343.17 L57.00,343.17 L57.50,343.17 L58.00,343.17 L58.50,343.17 L59.00,343.17 L59.50,343.17 L60.00,343.17 L60.50,343.17 L61.00,343.17 L61.50,343.17 L62.00,343.17 L62.50,343.17 L63.00,343.17 L63.50,343.17 L64.00,343.17 L64.50,343.17 L65.00,343.17 L65.50,343.17 L66.00,343.17 L66.50,343.17 L67.00,343.17 L67.50,343.17 L68.00,343.17 L68.50,343.17 L69.00,343.17 L69.50,343.17 L70.00,343.17 L70.50,343.17 L71.00,343.17 L71.50,343.17 L72.00,343.17 L72.50,343.17 L73.00,343.17 L73.50,343.17 L74.00,343.17 L74.50,343.17 L75.00,343.17 L75.50,343.17 L76.00,343.17 L76.50,343.17 L77.00,343.17 L77.50,343.17 L78.00,343.17 L78.50,343.17 L79.00,343.17 L79.50,343.17 L80.00,343.17 L80.50,343.17 L81.00,343.17 L81.50,343.17 L82.00,343.17 L82.50,343.17 L83.00,343.17 L83.50,343.17 L84.00,343.17 L84.50,343.17 L85.00,343.17 L85.50,343.17 L86.00,343.17 L86.50,343.17 L87.00,343.17 L87.50,343.17 L88.00,343.17 L88.50,343.17 L89.00,343.17 L89.50,343.17 L90.00,343.17 L90.50,343.17 L91.00,343.17 L91.50,343.17 L92.00,343.17 L92.50,343.17 L93.00,343.17 L93.50,343.17 L94.00,343.17 L94.50,343.17 L95.00,343.17 L95.50,343.17 L96.00,343.17 L96.50,343.17 L97.00,343.17 L97.50,343.18 L98.00,343.18 L98.50,343.18 L99.00,343.18 L99.50,343.18 L100.00,343.18 L100.50,343.18 L101.00,343.18 L101.50,343.19 L102.00,343.19 L102.50,343.19 L103.00,343.20 L103.50,343.20 L104.00,343.20 L104.50,343.21 L105.00,343.21 L105.50,343.22 L106.00,343.23 L106.50,343.24 L107.00,343.25 L107.50,343.26 L108.00,343.28 L108.50,343.29 L109.00,343.31 L109.50,343.33 L110.00,343.36 L110.50,343.39 L111.00,343.42 L111.50,343.46 L112.00,343.51 L112.50,343.56 L113.00,343.62 L113.50,343.69 L114.00,343.77 L114.50,343.86 L115.00,343.97 L115.50,344.09 L116.00,344.23 L116.50,344.39 L117.00,344.58 L117.50,344.79 L118.00,345.03 L118.50,345.31 L119.00,345.63 L119.50,346.00 L120.00,346.42 L120.50,346.89 L121.00,347.44 L121.50,348.05 L122.00,348.74 L122.50,349.52 L123.00,350.40 L123.50,351.38 L124.00,352.48 L124.50,353.69 L125.00,355.03 L125.50,356.49 L126.00,358.09 L126.50,359.82 L127.00,361.67 L127.50,363.64 L128.00,365.72 L128.50,367.89 L129.00,370.15 L129.50,372.45 L130.00,374.79 L130.50,377.15 L131.00,379.48 L131.50,381.78 L132.00,384.02 L132.50,386.17 L133.00,388.23 L133.50,390.18 L134.00,392.01 L134.50,393.71 L135.00,395.28 L135.50,396.72 L136.00,398.03 L136.50,399.22 L137.00,400.29 L137.50,401.25 L138.00,402.11 L138.50,402.87 L139.00,403.55 L139.50,404.15 L140.00,404.68 L140.50,405.14 L141.00,405.55 L141.50,405.90 L142.00,406.22 L142.50,406.49 L143.00,406.73 L143.50,406.93 L144.00,407.11 L144.50,407.27 L145.00,407.41 L145.50,407.53 L146.00,407.63 L146.50,407.72 L147.00,407.80 L147.50,407.86 L148.00,407.92 L148.50,407.97 L149.00,408.02 L149.50,408.05 L150.00,408.09 L150.50,408.12 L151.00,408.14 L151.50,408.16 L152.00,408.18 L152.50,408.20 L153.00,408.21 L153.50,408.22 L154.00,408.23 L154.50,408.24 L155.00,408.25 L155.50,408.26 L156.00,408.26 L156.50,408.27 L157.00,408.27 L157.50,408.28 L158.00,408.28 L158.50,408.28 L159.00,408.28 L159.50,408.29 L160.00,408.29 L160.50,408.29 L161.00,408.29 L161.50,408.29 L162.00,408.29 L162.50,408.29 L163.00,408.30 L163.50,408.30 L164.00,408.30 L164.50,408.30 L165.00,408.30 L165.50,408.30 L166.00,408.30 L166.50,408.30 L167.00,408.30 L167.50,408.30 L168.00,408.30 L168.50,408.30 L169.00,408.30 L169.50,408.30 L170.00,408.30 L170.50,408.30 L171.00,408.30 L171.50,408.30 L172.00,408.30" stroke="#eea233" stroke-width="0.8" fill="none" stroke-linejoin="round"/>
<path d="M42.00,344.17 L42.50,344.17 L43.00,344.17 L43.50,344.17 L44.00,344.17 L44.50,344.17 L45.00,344.17 L45.50,344.17 L46.00,344.17 L46.50,344.17 L47.00,344.17 L47.50,344.17 L48.00,344.17 L48.50,344.17 L49.00,344.17 L49.50,344.17 L50.00,344.17 L50.50,344.17 L51.00,344.17 L51.50,344.17 L52.00,344.17 L52.50,344.17 L53.00,344.17 L53.50,344.17 L54.00,344.17 L54.50,344.17 L55.00,344.17 L55.50,344.17 L56.00,344.17 L56.50,344.17 L57.00,344.17 L57.50,344.17 L58.00,344.17 L58.50,344.17 L59.00,344.17 L59.50,344.17 L60.00,344.17 L60.50,344.17 L61.00,344.17 L61.50,344.17 L62.00,344.17 L62.50,344.17 L63.00,344.17 L63.50,344.17 L64.00,344.17 L64.50,344.17 L65.00,344.17 L65.50,344.17 L66.00,344.17 L66.50,344.17 L67.00,344.17 L67.50,344.17 L68.00,344.17 L68.50,344.17 L69.00,344.17 L69.50,344.17 L70.00,344.17 L70.50,344.17 L71.00,344.17 L71.50,344.17 L72.00,344.17 L72.50,344.17 L73.00,344.17 L73.50,344.17 L74.00,344.17 L74.50,344.17 L75.00,344.17 L75.50,344.17 L76.00,344.17 L76.50,344.17 L77.00,344.17 L77.50,344.17 L78.00,344.17 L78.50,344.17 L79.00,344.17 L79.50,344.17 L80.00,344.17 L80.50,344.17 L81.00,344.17 L81.50,344.17 L82.00,344.17 L82.50,344.17 L83.00,344.17 L83.50,344.17 L84.00,344.17 L84.50,344.17 L85.00,344.17 L85.50,344.17 L86.00,344.17 L86.50,344.17 L87.00,344.17 L87.50,344.17 L88.00,344.17 L88.50,344.17 L89.00,344.17 L89.50,344.17 L90.00,344.17 L90.50,344.17 L91.00,344.17 L91.50,344.17 L92.00,344.17 L92.50,344.17 L93.00,344.17 L93.50,344.17 L94.00,344.17 L94.50,344.17 L95.00,344.17 L95.50,344.17 L96.00,344.17 L96.50,344.17 L97.00,344.17 L97.50,344.17 L98.00,344.17 L98.50,344.17 L99.00,344.17 L99.50,344.17 L100.00,344.17 L100.50,344.17 L101.00,344.17 L101.50,344.17 L102.00,344.17 L102.50,344.17 L103.00,344.18 L103.50,344.18 L104.00,344.18 L104.50,344.18 L105.00,344.18 L105.50,344.18 L106.00,344.18 L106.50,344.18 L107.00,344.19 L107.50,344.19 L108.00,344.19 L108.50,344.20 L109.00,344.21 L109.50,344.21 L110.00,344.22 L110.50,344.23 L111.00,344.25 L111.50,344.26 L112.00,344.28 L112.50,344.31 L113.00,344.34 L113.50,344.38 L114.00,344.42 L114.50,344.48 L115.00,344.54 L115.50,344.63 L116.00,344.73 L116.50,344.85 L117.00,345.00 L117.50,345.18 L118.00,345.40 L118.50,345.66 L119.00,345.98 L119.50,346.37 L120.00,346.84 L120.50,347.41 L121.00,348.09 L121.50,348.89 L122.00,349.85 L122.50,350.98 L123.00,352.30 L123.50,353.84 L124.00,355.61 L124.50,357.62 L125.00,359.88 L125.50,362.39 L126.00,365.12 L126.50,368.04 L127.00,371.12 L127.50,374.30 L128.00,377.52 L128.50,380.72 L129.00,383.82 L129.50,386.78 L130.00,389.56 L130.50,392.11 L131.00,394.42 L131.50,396.48 L132.00,398.30 L132.50,399.88 L133.00,401.24 L133.50,402.41 L134.00,403.40 L134.50,404.24 L135.00,404.94 L135.50,405.52 L136.00,406.01 L136.50,406.42 L137.00,406.75 L137.50,407.03 L138.00,407.25 L138.50,407.44 L139.00,407.60 L139.50,407.72 L140.00,407.83 L140.50,407.91 L141.00,407.98 L141.50,408.04 L142.00,408.09 L142.50,408.13 L143.00,408.16 L143.50,408.18 L144.00,408.20 L144.50,408.22 L145.00,408.24 L145.50,408.25 L146.00,408.26 L146.50,408.27 L147.00,408.27 L147.50,408.28 L148.00,408.28 L148.50,408.28 L149.00,408.29 L149.50,408.29 L150.00,408.29 L150.50,408.29 L151.00,408.29 L151.50,408.30 L152.00,408.30 L152.50,408.30 L153.00,408.30 L153.50,408.30 L154.00,408.30 L154.50,408.30 L155.00,408.30 L155.50,408.30 L156.00,408.30 L156.50,408.30 L157.00,408.30 L157.50,408.30 L158.00,408.30 L158.50,408.30 L159.00,408.30 L159.50,408.30 L160.00,408.30 L160.50,408.30 L161.00,408.30 L161.50,408.30 L162.00,408.30 L162.50,408.30 L163.00,408.30 L163.50,408.30 L164.00,408.30 L164.50,408.30 L165.00,408.30 L165.50,408.30 L166.00,408.30 L166.50,408.30 L167.00,408.30 L167.50,408.30 L168.00,408.30 L168.50,408.30 L169.00,408.30 L169.50,408.30 L170.00,408.30 L170.50,408.30 L171.00,408.30 L171.50,408.30 L172.00,408.30" stroke="#3fa535" stroke-width="0.8" fill="none" stroke-linejoin="round"/>
<path d="M42.00,342.84 L42.50,342.84 L43.00,342.84 L43.50,342.84 L44.00,342.84 L44.50,342.84 L45.00,342.84 L45.50,342.84 L46.00,342.84 L46.50,342.84 L47.00,342.84 L47.50,342.84 L48.00,342.84 L48.50,342.84 L49.00,342.84 L49.50,342.84 L50.00,342.84 L50.50,342.84 L51.00,342.84 L51.50,342.84 L52.00,342.84 L52.50,342.84 L53.00,342.84 L53.50,342.84 L54.00,342.84 L54.50,342.84 L55.00,342.84 L55.50,342.84 L56.00,342.84 L56.50,342.84 L57.00,342.84 L57.50,342.84 L58.00,342.84 L58.50,342.84 L59.00,342.84 L59.50,342.84 L60.00,342.84 L60.50,342.84 L61.00,342.84 L61.50,342.84 L62.00,342.84 L62.50,342.84 L63.00,342.84 L63.50,342.84 L64.00,342.84 L64.50,342.84 L65.00,342.84 L65.50,342.84 L66.00,342.84 L66.50,342.84 L67.00,342.84 L67.50,342.84 L68.00,342.84 L68.50,342.84 L69.00,342.84 L69.50,342.84 L70.00,342.84 L70.50,342.84 L71.00,342.84 L71.50,342.84 L72.00,342.84 L72.50,342.84 L73.00,342.84 L73.50,342.84 L74.00,342.84 L74.50,342.84 L75.00,342.84 L75.50,342.84 L76.00,342.84 L76.50,342.84 L77.00,342.84 L77.50,342.84 L78.00,342.84 L78.50,342.84 L79.00,342.84 L79.50,342.84 L80.00,342.84 L80.50,342.84 L81.00,342.84 L81.50,342.84 L82.00,342.84 L82.50,342.84 L83.00,342.84 L83.50,342.84 L84.00,342.84 L84.50,342.84 L85.00,342.84 L85.50,342.84 L86.00,342.84 L86.50,342.84 L87.00,342.84 L87.50,342.84 L88.00,342.84 L88.50,342.84 L89.00,342.84 L89.50,342.84 L90.00,342.84 L90.50,342.84 L91.00,342.84 L91.50,342.84 L92.00,342.84 L92.50,342.84 L93.00,342.84 L93.50,342.84 L94.00,342.84 L94.50,342.84 L95.00,342.84 L95.50,342.84 L96.00,342.84 L96.50,342.84 L97.00,342.84 L97.50,342.84 L98.00,342.84 L98.50,342.84 L99.00,342.84 L99.50,342.84 L100.00,342.84 L100.50,342.84 L101.00,342.84 L101.50,342.84 L102.00,342.84 L102.50,342.84 L103.00,342.84 L103.50,342.84 L104.00,342.84 L104.50,342.84 L105.00,342.84 L105.50,342.84 L106.00,342.84 L106.50,342.84 L107.00,342.84 L107.50,342.84 L108.00,342.84 L108.50,342.84 L109.00,342.84 L109.50,342.84 L110.00,342.84 L110.50,342.84 L111.00,342.84 L111.50,342.84 L112.00,342.84 L112.50,342.84 L113.00,342.85 L113.50,342.85 L114.00,342.85 L114.50,342.85 L115.00,342.85 L115.50,342.86 L116.00,342.86 L116.50,342.86 L117.00,342.87 L117.50,342.88 L118.00,342.88 L118.50,342.89 L119.00,342.90 L119.50,342.91 L120.00,342.93 L120.50,342.94 L121.00,342.96 L121.50,342.98 L122.00,343.01 L122.50,343.04 L123.00,343.07 L123.50,343.11 L124.00,343.16 L124.50,343.22 L125.00,343.29 L125.50,343.37 L126.00,343.46 L126.50,343.57 L127.00,343.70 L127.50,343.85 L128.00,344.03 L128.50,344.24 L129.00,344.48 L129.50,344.76 L130.00,345.10 L130.50,345.48 L131.00,345.93 L131.50,346.44 L132.00,347.04 L132.50,347.73 L133.00,348.53 L133.50,349.44 L134.00,350.47 L134.50,351.64 L135.00,352.96 L135.50,354.44 L136.00,356.08 L136.50,357.89 L137.00,359.87 L137.50,362.00 L138.00,364.29 L138.50,366.71 L139.00,369.23 L139.50,371.84 L140.00,374.50 L140.50,377.17 L141.00,379.82 L141.50,382.41 L142.00,384.92 L142.50,387.31 L143.00,389.57 L143.50,391.68 L144.00,393.62 L144.50,395.40 L145.00,397.00 L145.50,398.45 L146.00,399.74 L146.50,400.88 L147.00,401.89 L147.50,402.78 L148.00,403.55 L148.50,404.22 L149.00,404.80 L149.50,405.30 L150.00,405.74 L150.50,406.11 L151.00,406.43 L151.50,406.71 L152.00,406.94 L152.50,407.14 L153.00,407.31 L153.50,407.46 L154.00,407.59 L154.50,407.69 L155.00,407.78 L155.50,407.86 L156.00,407.93 L156.50,407.98 L157.00,408.03 L157.50,408.07 L158.00,408.11 L158.50,408.13 L159.00,408.16 L159.50,408.18 L160.00,408.20 L160.50,408.21 L161.00,408.23 L161.50,408.24 L162.00,408.25 L162.50,408.26 L163.00,408.26 L163.50,408.27 L164.00,408.27 L164.50,408.28 L165.00,408.28 L165.50,408.28 L166.00,408.29 L166.50,408.29 L167.00,408.29 L167.50,408.29 L168.00,408.29 L168.50,408.29 L169.00,408.29 L169.50,408.30 L170.00,408.30 L170.50,408.30 L171.00,408.30 L171.50,408.30 L172.00,408.30" stroke="#1d4e78" stroke-width="0.8" fill="none" stroke-linejoin="round"/>
<path d="M42.00,349.85 L42.50,349.85 L43.00,349.85 L43.50,349.85 L44.00,349.85 L44.50,349.85 L45.00,349.85 L45.50,349.85 L46.00,349.85 L46.50,349.85 L47.00,349.85 L47.50,349.85 L48.00,349.85 L48.50,349.85 L49.00,349.85 L49.50,349.85 L50.00,349.85 L50.50,349.85 L51.00,349.85 L51.50,349.85 L52.00,349.85 L52.50,349.85 L53.00,349.85 L53.50,349.85 L54.00,349.85 L54.50,349.85 L55.00,349.85 L55.50,349.85 L56.00,349.85 L56.50,349.85 L57.00,349.85 L57.50,349.85 L58.00,349.85 L58.50,349.85 L59.00,349.85 L59.50,349.85 L60.00,349.85 L60.50,349.85 L61.00,349.85 L61.50,349.85 L62.00,349.85 L62.50,349.85 L63.00,349.85 L63.50,349.85 L64.00,349.85 L64.50,349.86 L65.00,349.86 L65.50,349.86 L66.00,349.86 L66.50,349.86 L67.00,349.86 L67.50,349.86 L68.00,349.86 L68.50,349.86 L69.00,349.86 L69.50,349.86 L70.00,349.87 L70.50,349.87 L71.00,349.87 L71.50,349.87 L72.00,349.87 L72.50,349.88 L73.00,349.88 L73.50,349.88 L74.00,349.88 L74.50,349.89 L75.00,349.89 L75.50,349.90 L76.00,349.90 L76.50,349.90 L77.00,349.91 L77.50,349.92 L78.00,349.92 L78.50,349.93 L79.00,349.94 L79.50,349.95 L80.00,349.96 L80.50,349.97 L81.00,349.98 L81.50,349.99 L82.00,350.01 L82.50,350.03 L83.00,350.04 L83.50,350.06 L84.00,350.09 L84.50,350.11 L85.00,350.14 L85.50,350.16 L86.00,350.20 L86.50,350.23 L87.00,350.27 L87.50,350.31 L88.00,350.36 L88.50,350.41 L89.00,350.47 L89.50,350.53 L90.00,350.60 L90.50,350.68 L91.00,350.76 L91.50,350.85 L92.00,350.95 L92.50,351.06 L93.00,351.18 L93.50,351.32 L94.00,351.46 L94.50,351.62 L95.00,351.80 L95.50,351.99 L96.00,352.20 L96.50,352.43 L97.00,352.68 L97.50,352.95 L98.00,353.25 L98.50,353.58 L99.00,353.93 L99.50,354.32 L100.00,354.73 L100.50,355.19 L101.00,355.68 L101.50,356.21 L102.00,356.78 L102.50,357.40 L103.00,358.06 L103.50,358.78 L104.00,359.54 L104.50,360.35 L105.00,361.22 L105.50,362.13 L106.00,363.10 L106.50,364.13 L107.00,365.21 L107.50,366.33 L108.00,367.51 L108.50,368.73 L109.00,370.00 L109.50,371.30 L110.00,372.64 L110.50,374.01 L111.00,375.40 L111.50,376.80 L112.00,378.22 L112.50,379.64 L113.00,381.06 L113.50,382.47 L114.00,383.87 L114.50,385.24 L115.00,386.58 L115.50,387.90 L116.00,389.17 L116.50,390.40 L117.00,391.59 L117.50,392.72 L118.00,393.81 L118.50,394.84 L119.00,395.83 L119.50,396.76 L120.00,397.63 L120.50,398.45 L121.00,399.23 L121.50,399.95 L122.00,400.62 L122.50,401.25 L123.00,401.83 L123.50,402.37 L124.00,402.87 L124.50,403.33 L125.00,403.75 L125.50,404.15 L126.00,404.51 L126.50,404.84 L127.00,405.14 L127.50,405.42 L128.00,405.67 L128.50,405.91 L129.00,406.12 L129.50,406.32 L130.00,406.50 L130.50,406.66 L131.00,406.81 L131.50,406.94 L132.00,407.07 L132.50,407.18 L133.00,407.28 L133.50,407.37 L134.00,407.46 L134.50,407.53 L135.00,407.60 L135.50,407.67 L136.00,407.73 L136.50,407.78 L137.00,407.83 L137.50,407.87 L138.00,407.91 L138.50,407.95 L139.00,407.98 L139.50,408.01 L140.00,408.04 L140.50,408.06 L141.00,408.08 L141.50,408.10 L142.00,408.12 L142.50,408.14 L143.00,408.15 L143.50,408.17 L144.00,408.18 L144.50,408.19 L145.00,408.20 L145.50,408.21 L146.00,408.22 L146.50,408.23 L147.00,408.23 L147.50,408.24 L148.00,408.24 L148.50,408.25 L149.00,408.25 L149.50,408.26 L150.00,408.26 L150.50,408.27 L151.00,408.27 L151.50,408.27 L152.00,408.27 L152.50,408.28 L153.00,408.28 L153.50,408.28 L154.00,408.28 L154.50,408.28 L155.00,408.29 L155.50,408.29 L156.00,408.29 L156.50,408.29 L157.00,408.29 L157.50,408.29 L158.00,408.29 L158.50,408.29 L159.00,408.29 L159.50,408.29 L160.00,408.29 L160.50,408.30 L161.00,408.30 L161.50,408.30 L162.00,408.30 L162.50,408.30 L163.00,408.30 L163.50,408.30 L164.00,408.30 L164.50,408.30 L165.00,408.30 L165.50,408.30 L166.00,408.30 L166.50,408.30 L167.00,408.30 L167.50,408.30 L168.00,408.30 L168.50,408.30 L169.00,408.30 L169.50,408.30 L170.00,408.30 L170.50,408.30 L171.00,408.30 L171.50,408.30 L172.00,408.30" stroke="#c0173f" stroke-width="0.8" fill="none" stroke-linejoin="round"/>
<line x1="42.20" y1="344.08" x2="42.20" y2="348.08" stroke="#a5c27c" stroke-width="0.5"/>
<line x1="41.20" y1="344.08" x2="43.20" y2="344.08" stroke="#a5c27c" stroke-width="0.5"/>
<line x1="41.20" y1="348.08" x2="43.20" y2="348.08" stroke="#a5c27c" stroke-width="0.5"/>
<line x1="60.40" y1="344.48" x2="60.40" y2="348.48" stroke="#a5c27c" stroke-width="0.5"/>
<line x1="59.40" y1="344.48" x2="61.40" y2="344.48" stroke="#a5c27c" stroke-width="0.5"/>
<line x1="59.40" y1="348.48" x2="61.40" y2="348.48" stroke="#a5c27c" stroke-width="0.5"/>
<line x1="78.50" y1="343.48" x2="78.50" y2="347.48" stroke="#a5c27c" stroke-width="0.5"/>
<line x1="77.50" y1="343.48" x2="79.50" y2="343.48" stroke="#a5c27c" stroke-width="0.5"/>
<line x1="77.50" y1="347.48" x2="79.50" y2="347.48" stroke="#a5c27c" stroke-width="0.5"/>
<line x1="91.20" y1="344.60" x2="91.20" y2="348.60" stroke="#a5c27c" stroke-width="0.5"/>
<line x1="90.20" y1="344.60" x2="92.20" y2="344.60" stroke="#a5c27c" stroke-width="0.5"/>
<line x1="90.20" y1="348.60" x2="92.20" y2="348.60" stroke="#a5c27c" stroke-width="0.5"/>
<line x1="96.40" y1="344.16" x2="96.40" y2="348.16" stroke="#a5c27c" stroke-width="0.5"/>
<line x1="95.40" y1="344.16" x2="97.40" y2="344.16" stroke="#a5c27c" stroke-width="0.5"/>
<line x1="95.40" y1="348.16" x2="97.40" y2="348.16" stroke="#a5c27c" stroke-width="0.5"/>
<line x1="101.90" y1="344.49" x2="101.90" y2="348.49" stroke="#a5c27c" stroke-width="0.5"/>
<line x1="100.90" y1="344.49" x2="102.90" y2="344.49" stroke="#a5c27c" stroke-width="0.5"/>
<line x1="100.90" y1="348.49" x2="102.90" y2="348.49" stroke="#a5c27c" stroke-width="0.5"/>
<line x1="108.40" y1="344.35" x2="108.40" y2="348.35" stroke="#a5c27c" stroke-width="0.5"/>
<line x1="107.40" y1="344.35" x2="109.40" y2="344.35" stroke="#a5c27c" stroke-width="0.5"/>
<line x1="107.40" y1="348.35" x2="109.40" y2="348.35" stroke="#a5c27c" stroke-width="0.5"/>
<line x1="111.00" y1="343.23" x2="111.00" y2="347.23" stroke="#a5c27c" stroke-width="0.5"/>
<line x1="110.00" y1="343.23" x2="112.00" y2="343.23" stroke="#a5c27c" stroke-width="0.5"/>
<line x1="110.00" y1="347.23" x2="112.00" y2="347.23" stroke="#a5c27c" stroke-width="0.5"/>
<line x1="113.60" y1="344.99" x2="113.60" y2="348.99" stroke="#a5c27c" stroke-width="0.5"/>
<line x1="112.60" y1="344.99" x2="114.60" y2="344.99" stroke="#a5c27c" stroke-width="0.5"/>
<line x1="112.60" y1="348.99" x2="114.60" y2="348.99" stroke="#a5c27c" stroke-width="0.5"/>
<line x1="116.20" y1="344.33" x2="116.20" y2="348.33" stroke="#a5c27c" stroke-width="0.5"/>
<line x1="115.20" y1="344.33" x2="117.20" y2="344.33" stroke="#a5c27c" stroke-width="0.5"/>
<line x1="115.20" y1="348.33" x2="117.20" y2="348.33" stroke="#a5c27c" stroke-width="0.5"/>
<line x1="118.80" y1="344.88" x2="118.80" y2="348.88" stroke="#a5c27c" stroke-width="0.5"/>
<line x1="117.80" y1="344.88" x2="119.80" y2="344.88" stroke="#a5c27c" stroke-width="0.5"/>
<line x1="117.80" y1="348.88" x2="119.80" y2="348.88" stroke="#a5c27c" stroke-width="0.5"/>
<line x1="121.40" y1="344.95" x2="121.40" y2="348.95" stroke="#a5c27c" stroke-width="0.5"/>
<line x1="120.40" y1="344.95" x2="122.40" y2="344.95" stroke="#a5c27c" stroke-width="0.5"/>
<line x1="120.40" y1="348.95" x2="122.40" y2="348.95" stroke="#a5c27c" stroke-width="0.5"/>
<line x1="124.00" y1="344.62" x2="124.00" y2="348.62" stroke="#a5c27c" stroke-width="0.5"/>
<line x1="123.00" y1="344.62" x2="125.00" y2="344.62" stroke="#a5c27c" stroke-width="0.5"/>
<line x1="123.00" y1="348.62" x2="125.00" y2="348.62" stroke="#a5c27c" stroke-width="0.5"/>
<line x1="126.60" y1="347.01" x2="126.60" y2="356.26" stroke="#a5c27c" stroke-width="0.5"/>
<line x1="125.60" y1="347.01" x2="127.60" y2="347.01" stroke="#a5c27c" stroke-width="0.5"/>
<line x1="125.60" y1="356.26" x2="127.60" y2="356.26" stroke="#a5c27c" stroke-width="0.5"/>
<line x1="129.20" y1="353.45" x2="129.20" y2="363.56" stroke="#a5c27c" stroke-width="0.5"/>
<line x1="128.20" y1="353.45" x2="130.20" y2="353.45" stroke="#a5c27c" stroke-width="0.5"/>
<line x1="128.20" y1="363.56" x2="130.20" y2="363.56" stroke="#a5c27c" stroke-width="0.5"/>
<line x1="131.80" y1="369.75" x2="131.80" y2="375.94" stroke="#a5c27c" stroke-width="0.5"/>
<line x1="130.80" y1="369.75" x2="132.80" y2="369.75" stroke="#a5c27c" stroke-width="0.5"/>
<line x1="130.80" y1="375.94" x2="132.80" y2="375.94" stroke="#a5c27c" stroke-width="0.5"/>
<line x1="134.40" y1="386.02" x2="134.40" y2="393.88" stroke="#a5c27c" stroke-width="0.5"/>
<line x1="133.40" y1="386.02" x2="135.40" y2="386.02" stroke="#a5c27c" stroke-width="0.5"/>
<line x1="133.40" y1="393.88" x2="135.40" y2="393.88" stroke="#a5c27c" stroke-width="0.5"/>
<line x1="137.00" y1="394.33" x2="137.00" y2="403.27" stroke="#a5c27c" stroke-width="0.5"/>
<line x1="136.00" y1="394.33" x2="138.00" y2="394.33" stroke="#a5c27c" stroke-width="0.5"/>
<line x1="136.00" y1="403.27" x2="138.00" y2="403.27" stroke="#a5c27c" stroke-width="0.5"/>
<line x1="139.60" y1="404.29" x2="139.60" y2="408.29" stroke="#a5c27c" stroke-width="0.5"/>
<line x1="138.60" y1="404.29" x2="140.60" y2="404.29" stroke="#a5c27c" stroke-width="0.5"/>
<line x1="138.60" y1="408.29" x2="140.60" y2="408.29" stroke="#a5c27c" stroke-width="0.5"/>
<line x1="142.20" y1="405.09" x2="142.20" y2="409.09" stroke="#a5c27c" stroke-width="0.5"/>
<line x1="141.20" y1="405.09" x2="143.20" y2="405.09" stroke="#a5c27c" stroke-width="0.5"/>
<line x1="141.20" y1="409.09" x2="143.20" y2="409.09" stroke="#a5c27c" stroke-width="0.5"/>
<line x1="144.80" y1="406.30" x2="144.80" y2="410.30" stroke="#a5c27c" stroke-width="0.5"/>
<line x1="143.80" y1="406.30" x2="145.80" y2="406.30" stroke="#a5c27c" stroke-width="0.5"/>
<line x1="143.80" y1="410.30" x2="145.80" y2="410.30" stroke="#a5c27c" stroke-width="0.5"/>
<line x1="147.40" y1="406.19" x2="147.40" y2="410.19" stroke="#a5c27c" stroke-width="0.5"/>
<line x1="146.40" y1="406.19" x2="148.40" y2="406.19" stroke="#a5c27c" stroke-width="0.5"/>
<line x1="146.40" y1="410.19" x2="148.40" y2="410.19" stroke="#a5c27c" stroke-width="0.5"/>
<line x1="150.00" y1="406.30" x2="150.00" y2="410.30" stroke="#a5c27c" stroke-width="0.5"/>
<line x1="149.00" y1="406.30" x2="151.00" y2="406.30" stroke="#a5c27c" stroke-width="0.5"/>
<line x1="149.00" y1="410.30" x2="151.00" y2="410.30" stroke="#a5c27c" stroke-width="0.5"/>
<line x1="152.60" y1="406.30" x2="152.60" y2="410.30" stroke="#a5c27c" stroke-width="0.5"/>
<line x1="151.60" y1="406.30" x2="153.60" y2="406.30" stroke="#a5c27c" stroke-width="0.5"/>
<line x1="151.60" y1="410.30" x2="153.60" y2="410.30" stroke="#a5c27c" stroke-width="0.5"/>
<line x1="158.60" y1="405.73" x2="158.60" y2="409.73" stroke="#a5c27c" stroke-width="0.5"/>
<line x1="157.60" y1="405.73" x2="159.60" y2="405.73" stroke="#a5c27c" stroke-width="0.5"/>
<line x1="157.60" y1="409.73" x2="159.60" y2="409.73" stroke="#a5c27c" stroke-width="0.5"/>
<line x1="164.60" y1="406.27" x2="164.60" y2="410.27" stroke="#a5c27c" stroke-width="0.5"/>
<line x1="163.60" y1="406.27" x2="165.60" y2="406.27" stroke="#a5c27c" stroke-width="0.5"/>
<line x1="163.60" y1="410.27" x2="165.60" y2="410.27" stroke="#a5c27c" stroke-width="0.5"/>
<line x1="42.20" y1="342.26" x2="42.20" y2="346.26" stroke="#8d86c3" stroke-width="0.5"/>
<line x1="41.20" y1="342.26" x2="43.20" y2="342.26" stroke="#8d86c3" stroke-width="0.5"/>
<line x1="41.20" y1="346.26" x2="43.20" y2="346.26" stroke="#8d86c3" stroke-width="0.5"/>
<line x1="60.40" y1="343.89" x2="60.40" y2="347.89" stroke="#8d86c3" stroke-width="0.5"/>
<line x1="59.40" y1="343.89" x2="61.40" y2="343.89" stroke="#8d86c3" stroke-width="0.5"/>
<line x1="59.40" y1="347.89" x2="61.40" y2="347.89" stroke="#8d86c3" stroke-width="0.5"/>
<line x1="78.50" y1="344.13" x2="78.50" y2="348.13" stroke="#8d86c3" stroke-width="0.5"/>
<line x1="77.50" y1="344.13" x2="79.50" y2="344.13" stroke="#8d86c3" stroke-width="0.5"/>
<line x1="77.50" y1="348.13" x2="79.50" y2="348.13" stroke="#8d86c3" stroke-width="0.5"/>
<line x1="91.20" y1="342.17" x2="91.20" y2="346.17" stroke="#8d86c3" stroke-width="0.5"/>
<line x1="90.20" y1="342.17" x2="92.20" y2="342.17" stroke="#8d86c3" stroke-width="0.5"/>
<line x1="90.20" y1="346.17" x2="92.20" y2="346.17" stroke="#8d86c3" stroke-width="0.5"/>
<line x1="96.40" y1="343.81" x2="96.40" y2="347.81" stroke="#8d86c3" stroke-width="0.5"/>
<line x1="95.40" y1="343.81" x2="97.40" y2="343.81" stroke="#8d86c3" stroke-width="0.5"/>
<line x1="95.40" y1="347.81" x2="97.40" y2="347.81" stroke="#8d86c3" stroke-width="0.5"/>
<line x1="101.90" y1="343.93" x2="101.90" y2="347.93" stroke="#8d86c3" stroke-width="0.5"/>
<line x1="100.90" y1="343.93" x2="102.90" y2="343.93" stroke="#8d86c3" stroke-width="0.5"/>
<line x1="100.90" y1="347.93" x2="102.90" y2="347.93" stroke="#8d86c3" stroke-width="0.5"/>
<line x1="107.80" y1="342.88" x2="107.80" y2="346.88" stroke="#8d86c3" stroke-width="0.5"/>
<line x1="106.80" y1="342.88" x2="108.80" y2="342.88" stroke="#8d86c3" stroke-width="0.5"/>
<line x1="106.80" y1="346.88" x2="108.80" y2="346.88" stroke="#8d86c3" stroke-width="0.5"/>
<line x1="110.40" y1="343.51" x2="110.40" y2="347.51" stroke="#8d86c3" stroke-width="0.5"/>
<line x1="109.40" y1="343.51" x2="111.40" y2="343.51" stroke="#8d86c3" stroke-width="0.5"/>
<line x1="109.40" y1="347.51" x2="111.40" y2="347.51" stroke="#8d86c3" stroke-width="0.5"/>
<line x1="113.00" y1="342.47" x2="113.00" y2="346.47" stroke="#8d86c3" stroke-width="0.5"/>
<line x1="112.00" y1="342.47" x2="114.00" y2="342.47" stroke="#8d86c3" stroke-width="0.5"/>
<line x1="112.00" y1="346.47" x2="114.00" y2="346.47" stroke="#8d86c3" stroke-width="0.5"/>
<line x1="115.60" y1="343.98" x2="115.60" y2="347.98" stroke="#8d86c3" stroke-width="0.5"/>
<line x1="114.60" y1="343.98" x2="116.60" y2="343.98" stroke="#8d86c3" stroke-width="0.5"/>
<line x1="114.60" y1="347.98" x2="116.60" y2="347.98" stroke="#8d86c3" stroke-width="0.5"/>
<line x1="118.20" y1="343.19" x2="118.20" y2="347.19" stroke="#8d86c3" stroke-width="0.5"/>
<line x1="117.20" y1="343.19" x2="119.20" y2="343.19" stroke="#8d86c3" stroke-width="0.5"/>
<line x1="117.20" y1="347.19" x2="119.20" y2="347.19" stroke="#8d86c3" stroke-width="0.5"/>
<line x1="120.80" y1="344.89" x2="120.80" y2="354.10" stroke="#8d86c3" stroke-width="0.5"/>
<line x1="119.80" y1="344.89" x2="121.80" y2="344.89" stroke="#8d86c3" stroke-width="0.5"/>
<line x1="119.80" y1="354.10" x2="121.80" y2="354.10" stroke="#8d86c3" stroke-width="0.5"/>
<line x1="123.40" y1="346.99" x2="123.40" y2="356.79" stroke="#8d86c3" stroke-width="0.5"/>
<line x1="122.40" y1="346.99" x2="124.40" y2="346.99" stroke="#8d86c3" stroke-width="0.5"/>
<line x1="122.40" y1="356.79" x2="124.40" y2="356.79" stroke="#8d86c3" stroke-width="0.5"/>
<line x1="126.00" y1="361.53" x2="126.00" y2="371.49" stroke="#8d86c3" stroke-width="0.5"/>
<line x1="125.00" y1="361.53" x2="127.00" y2="361.53" stroke="#8d86c3" stroke-width="0.5"/>
<line x1="125.00" y1="371.49" x2="127.00" y2="371.49" stroke="#8d86c3" stroke-width="0.5"/>
<line x1="128.60" y1="385.67" x2="128.60" y2="396.84" stroke="#8d86c3" stroke-width="0.5"/>
<line x1="127.60" y1="385.67" x2="129.60" y2="385.67" stroke="#8d86c3" stroke-width="0.5"/>
<line x1="127.60" y1="396.84" x2="129.60" y2="396.84" stroke="#8d86c3" stroke-width="0.5"/>
<line x1="131.20" y1="396.62" x2="131.20" y2="403.80" stroke="#8d86c3" stroke-width="0.5"/>
<line x1="130.20" y1="396.62" x2="132.20" y2="396.62" stroke="#8d86c3" stroke-width="0.5"/>
<line x1="130.20" y1="403.80" x2="132.20" y2="403.80" stroke="#8d86c3" stroke-width="0.5"/>
<line x1="133.80" y1="404.56" x2="133.80" y2="408.56" stroke="#8d86c3" stroke-width="0.5"/>
<line x1="132.80" y1="404.56" x2="134.80" y2="404.56" stroke="#8d86c3" stroke-width="0.5"/>
<line x1="132.80" y1="408.56" x2="134.80" y2="408.56" stroke="#8d86c3" stroke-width="0.5"/>
<line x1="136.40" y1="404.90" x2="136.40" y2="408.90" stroke="#8d86c3" stroke-width="0.5"/>
<line x1="135.40" y1="404.90" x2="137.40" y2="404.90" stroke="#8d86c3" stroke-width="0.5"/>
<line x1="135.40" y1="408.90" x2="137.40" y2="408.90" stroke="#8d86c3" stroke-width="0.5"/>
<line x1="139.00" y1="405.93" x2="139.00" y2="409.93" stroke="#8d86c3" stroke-width="0.5"/>
<line x1="138.00" y1="405.93" x2="140.00" y2="405.93" stroke="#8d86c3" stroke-width="0.5"/>
<line x1="138.00" y1="409.93" x2="140.00" y2="409.93" stroke="#8d86c3" stroke-width="0.5"/>
<line x1="141.60" y1="405.36" x2="141.60" y2="409.36" stroke="#8d86c3" stroke-width="0.5"/>
<line x1="140.60" y1="405.36" x2="142.60" y2="405.36" stroke="#8d86c3" stroke-width="0.5"/>
<line x1="140.60" y1="409.36" x2="142.60" y2="409.36" stroke="#8d86c3" stroke-width="0.5"/>
<line x1="144.20" y1="405.73" x2="144.20" y2="409.73" stroke="#8d86c3" stroke-width="0.5"/>
<line x1="143.20" y1="405.73" x2="145.20" y2="405.73" stroke="#8d86c3" stroke-width="0.5"/>
<line x1="143.20" y1="409.73" x2="145.20" y2="409.73" stroke="#8d86c3" stroke-width="0.5"/>
<line x1="146.80" y1="405.37" x2="146.80" y2="409.37" stroke="#8d86c3" stroke-width="0.5"/>
<line x1="145.80" y1="405.37" x2="147.80" y2="405.37" stroke="#8d86c3" stroke-width="0.5"/>
<line x1="145.80" y1="409.37" x2="147.80" y2="409.37" stroke="#8d86c3" stroke-width="0.5"/>
<line x1="149.40" y1="406.17" x2="149.40" y2="410.17" stroke="#8d86c3" stroke-width="0.5"/>
<line x1="148.40" y1="406.17" x2="150.40" y2="406.17" stroke="#8d86c3" stroke-width="0.5"/>
<line x1="148.40" y1="410.17" x2="150.40" y2="410.17" stroke="#8d86c3" stroke-width="0.5"/>
<line x1="152.00" y1="405.90" x2="152.00" y2="409.90" stroke="#8d86c3" stroke-width="0.5"/>
<line x1="151.00" y1="405.90" x2="153.00" y2="405.90" stroke="#8d86c3" stroke-width="0.5"/>
<line x1="151.00" y1="409.90" x2="153.00" y2="409.90" stroke="#8d86c3" stroke-width="0.5"/>
<line x1="158.00" y1="406.07" x2="158.00" y2="410.07" stroke="#8d86c3" stroke-width="0.5"/>
<line x1="157.00" y1="406.07" x2="159.00" y2="406.07" stroke="#8d86c3" stroke-width="0.5"/>
<line x1="157.00" y1="410.07" x2="159.00" y2="410.07" stroke="#8d86c3" stroke-width="0.5"/>
<line x1="164.00" y1="406.30" x2="164.00" y2="410.30" stroke="#8d86c3" stroke-width="0.5"/>
<line x1="163.00" y1="406.30" x2="165.00" y2="406.30" stroke="#8d86c3" stroke-width="0.5"/>
<line x1="163.00" y1="410.30" x2="165.00" y2="410.30" stroke="#8d86c3" stroke-width="0.5"/>
<line x1="42.20" y1="340.24" x2="42.20" y2="344.24" stroke="#eea233" stroke-width="0.5"/>
<line x1="41.20" y1="340.24" x2="43.20" y2="340.24" stroke="#eea233" stroke-width="0.5"/>
<line x1="41.20" y1="344.24" x2="43.20" y2="344.24" stroke="#eea233" stroke-width="0.5"/>
<line x1="60.40" y1="342.15" x2="60.40" y2="346.15" stroke="#eea233" stroke-width="0.5"/>
<line x1="59.40" y1="342.15" x2="61.40" y2="342.15" stroke="#eea233" stroke-width="0.5"/>
<line x1="59.40" y1="346.15" x2="61.40" y2="346.15" stroke="#eea233" stroke-width="0.5"/>
<line x1="78.50" y1="340.70" x2="78.50" y2="344.70" stroke="#eea233" stroke-width="0.5"/>
<line x1="77.50" y1="340.70" x2="79.50" y2="340.70" stroke="#eea233" stroke-width="0.5"/>
<line x1="77.50" y1="344.70" x2="79.50" y2="344.70" stroke="#eea233" stroke-width="0.5"/>
<line x1="91.20" y1="341.86" x2="91.20" y2="345.86" stroke="#eea233" stroke-width="0.5"/>
<line x1="90.20" y1="341.86" x2="92.20" y2="341.86" stroke="#eea233" stroke-width="0.5"/>
<line x1="90.20" y1="345.86" x2="92.20" y2="345.86" stroke="#eea233" stroke-width="0.5"/>
<line x1="96.40" y1="340.20" x2="96.40" y2="344.20" stroke="#eea233" stroke-width="0.5"/>
<line x1="95.40" y1="340.20" x2="97.40" y2="340.20" stroke="#eea233" stroke-width="0.5"/>
<line x1="95.40" y1="344.20" x2="97.40" y2="344.20" stroke="#eea233" stroke-width="0.5"/>
<line x1="101.90" y1="342.16" x2="101.90" y2="346.16" stroke="#eea233" stroke-width="0.5"/>
<line x1="100.90" y1="342.16" x2="102.90" y2="342.16" stroke="#eea233" stroke-width="0.5"/>
<line x1="100.90" y1="346.16" x2="102.90" y2="346.16" stroke="#eea233" stroke-width="0.5"/>
<line x1="107.20" y1="340.49" x2="107.20" y2="344.49" stroke="#eea233" stroke-width="0.5"/>
<line x1="106.20" y1="340.49" x2="108.20" y2="340.49" stroke="#eea233" stroke-width="0.5"/>
<line x1="106.20" y1="344.49" x2="108.20" y2="344.49" stroke="#eea233" stroke-width="0.5"/>
<line x1="109.80" y1="340.99" x2="109.80" y2="344.99" stroke="#eea233" stroke-width="0.5"/>
<line x1="108.80" y1="340.99" x2="110.80" y2="340.99" stroke="#eea233" stroke-width="0.5"/>
<line x1="108.80" y1="344.99" x2="110.80" y2="344.99" stroke="#eea233" stroke-width="0.5"/>
<line x1="112.40" y1="340.83" x2="112.40" y2="344.83" stroke="#eea233" stroke-width="0.5"/>
<line x1="111.40" y1="340.83" x2="113.40" y2="340.83" stroke="#eea233" stroke-width="0.5"/>
<line x1="111.40" y1="344.83" x2="113.40" y2="344.83" stroke="#eea233" stroke-width="0.5"/>
<line x1="115.00" y1="340.96" x2="115.00" y2="344.96" stroke="#eea233" stroke-width="0.5"/>
<line x1="114.00" y1="340.96" x2="116.00" y2="340.96" stroke="#eea233" stroke-width="0.5"/>
<line x1="114.00" y1="344.96" x2="116.00" y2="344.96" stroke="#eea233" stroke-width="0.5"/>
<line x1="117.60" y1="343.36" x2="117.60" y2="347.36" stroke="#eea233" stroke-width="0.5"/>
<line x1="116.60" y1="343.36" x2="118.60" y2="343.36" stroke="#eea233" stroke-width="0.5"/>
<line x1="116.60" y1="347.36" x2="118.60" y2="347.36" stroke="#eea233" stroke-width="0.5"/>
<line x1="120.20" y1="344.93" x2="120.20" y2="348.93" stroke="#eea233" stroke-width="0.5"/>
<line x1="119.20" y1="344.93" x2="121.20" y2="344.93" stroke="#eea233" stroke-width="0.5"/>
<line x1="119.20" y1="348.93" x2="121.20" y2="348.93" stroke="#eea233" stroke-width="0.5"/>
<line x1="122.80" y1="345.17" x2="122.80" y2="352.13" stroke="#eea233" stroke-width="0.5"/>
<line x1="121.80" y1="345.17" x2="123.80" y2="345.17" stroke="#eea233" stroke-width="0.5"/>
<line x1="121.80" y1="352.13" x2="123.80" y2="352.13" stroke="#eea233" stroke-width="0.5"/>
<line x1="125.40" y1="354.47" x2="125.40" y2="361.07" stroke="#eea233" stroke-width="0.5"/>
<line x1="124.40" y1="354.47" x2="126.40" y2="354.47" stroke="#eea233" stroke-width="0.5"/>
<line x1="124.40" y1="361.07" x2="126.40" y2="361.07" stroke="#eea233" stroke-width="0.5"/>
<line x1="128.00" y1="357.77" x2="128.00" y2="368.89" stroke="#eea233" stroke-width="0.5"/>
<line x1="127.00" y1="357.77" x2="129.00" y2="357.77" stroke="#eea233" stroke-width="0.5"/>
<line x1="127.00" y1="368.89" x2="129.00" y2="368.89" stroke="#eea233" stroke-width="0.5"/>
<line x1="130.60" y1="372.34" x2="130.60" y2="378.91" stroke="#eea233" stroke-width="0.5"/>
<line x1="129.60" y1="372.34" x2="131.60" y2="372.34" stroke="#eea233" stroke-width="0.5"/>
<line x1="129.60" y1="378.91" x2="131.60" y2="378.91" stroke="#eea233" stroke-width="0.5"/>
<line x1="133.20" y1="381.90" x2="133.20" y2="390.48" stroke="#eea233" stroke-width="0.5"/>
<line x1="132.20" y1="381.90" x2="134.20" y2="381.90" stroke="#eea233" stroke-width="0.5"/>
<line x1="132.20" y1="390.48" x2="134.20" y2="390.48" stroke="#eea233" stroke-width="0.5"/>
<line x1="135.80" y1="395.22" x2="135.80" y2="403.41" stroke="#eea233" stroke-width="0.5"/>
<line x1="134.80" y1="395.22" x2="136.80" y2="395.22" stroke="#eea233" stroke-width="0.5"/>
<line x1="134.80" y1="403.41" x2="136.80" y2="403.41" stroke="#eea233" stroke-width="0.5"/>
<line x1="138.40" y1="400.49" x2="138.40" y2="406.04" stroke="#eea233" stroke-width="0.5"/>
<line x1="137.40" y1="400.49" x2="139.40" y2="400.49" stroke="#eea233" stroke-width="0.5"/>
<line x1="137.40" y1="406.04" x2="139.40" y2="406.04" stroke="#eea233" stroke-width="0.5"/>
<line x1="141.00" y1="403.42" x2="141.00" y2="407.42" stroke="#eea233" stroke-width="0.5"/>
<line x1="140.00" y1="403.42" x2="142.00" y2="403.42" stroke="#eea233" stroke-width="0.5"/>
<line x1="140.00" y1="407.42" x2="142.00" y2="407.42" stroke="#eea233" stroke-width="0.5"/>
<line x1="143.60" y1="405.25" x2="143.60" y2="409.25" stroke="#eea233" stroke-width="0.5"/>
<line x1="142.60" y1="405.25" x2="144.60" y2="405.25" stroke="#eea233" stroke-width="0.5"/>
<line x1="142.60" y1="409.25" x2="144.60" y2="409.25" stroke="#eea233" stroke-width="0.5"/>
<line x1="146.20" y1="405.53" x2="146.20" y2="409.53" stroke="#eea233" stroke-width="0.5"/>
<line x1="145.20" y1="405.53" x2="147.20" y2="405.53" stroke="#eea233" stroke-width="0.5"/>
<line x1="145.20" y1="409.53" x2="147.20" y2="409.53" stroke="#eea233" stroke-width="0.5"/>
<line x1="148.80" y1="405.14" x2="148.80" y2="409.14" stroke="#eea233" stroke-width="0.5"/>
<line x1="147.80" y1="405.14" x2="149.80" y2="405.14" stroke="#eea233" stroke-width="0.5"/>
<line x1="147.80" y1="409.14" x2="149.80" y2="409.14" stroke="#eea233" stroke-width="0.5"/>
<line x1="151.40" y1="405.87" x2="151.40" y2="409.87" stroke="#eea233" stroke-width="0.5"/>
<line x1="150.40" y1="405.87" x2="152.40" y2="405.87" stroke="#eea233" stroke-width="0.5"/>
<line x1="150.40" y1="409.87" x2="152.40" y2="409.87" stroke="#eea233" stroke-width="0.5"/>
<line x1="157.40" y1="406.30" x2="157.40" y2="410.30" stroke="#eea233" stroke-width="0.5"/>
<line x1="156.40" y1="406.30" x2="158.40" y2="406.30" stroke="#eea233" stroke-width="0.5"/>
<line x1="156.40" y1="410.30" x2="158.40" y2="410.30" stroke="#eea233" stroke-width="0.5"/>
<line x1="163.40" y1="405.57" x2="163.40" y2="409.57" stroke="#eea233" stroke-width="0.5"/>
<line x1="162.40" y1="405.57" x2="164.40" y2="405.57" stroke="#eea233" stroke-width="0.5"/>
<line x1="162.40" y1="409.57" x2="164.40" y2="409.57" stroke="#eea233" stroke-width="0.5"/>
<line x1="42.20" y1="342.72" x2="42.20" y2="346.72" stroke="#3fa535" stroke-width="0.5"/>
<line x1="41.20" y1="342.72" x2="43.20" y2="342.72" stroke="#3fa535" stroke-width="0.5"/>
<line x1="41.20" y1="346.72" x2="43.20" y2="346.72" stroke="#3fa535" stroke-width="0.5"/>
<line x1="60.40" y1="341.25" x2="60.40" y2="345.25" stroke="#3fa535" stroke-width="0.5"/>
<line x1="59.40" y1="341.25" x2="61.40" y2="341.25" stroke="#3fa535" stroke-width="0.5"/>
<line x1="59.40" y1="345.25" x2="61.40" y2="345.25" stroke="#3fa535" stroke-width="0.5"/>
<line x1="78.50" y1="342.92" x2="78.50" y2="346.92" stroke="#3fa535" stroke-width="0.5"/>
<line x1="77.50" y1="342.92" x2="79.50" y2="342.92" stroke="#3fa535" stroke-width="0.5"/>
<line x1="77.50" y1="346.92" x2="79.50" y2="346.92" stroke="#3fa535" stroke-width="0.5"/>
<line x1="91.20" y1="341.76" x2="91.20" y2="345.76" stroke="#3fa535" stroke-width="0.5"/>
<line x1="90.20" y1="341.76" x2="92.20" y2="341.76" stroke="#3fa535" stroke-width="0.5"/>
<line x1="90.20" y1="345.76" x2="92.20" y2="345.76" stroke="#3fa535" stroke-width="0.5"/>
<line x1="96.40" y1="343.00" x2="96.40" y2="347.00" stroke="#3fa535" stroke-width="0.5"/>
<line x1="95.40" y1="343.00" x2="97.40" y2="343.00" stroke="#3fa535" stroke-width="0.5"/>
<line x1="95.40" y1="347.00" x2="97.40" y2="347.00" stroke="#3fa535" stroke-width="0.5"/>
<line x1="101.90" y1="342.68" x2="101.90" y2="346.68" stroke="#3fa535" stroke-width="0.5"/>
<line x1="100.90" y1="342.68" x2="102.90" y2="342.68" stroke="#3fa535" stroke-width="0.5"/>
<line x1="100.90" y1="346.68" x2="102.90" y2="346.68" stroke="#3fa535" stroke-width="0.5"/>
<line x1="106.60" y1="341.18" x2="106.60" y2="345.18" stroke="#3fa535" stroke-width="0.5"/>
<line x1="105.60" y1="341.18" x2="107.60" y2="341.18" stroke="#3fa535" stroke-width="0.5"/>
<line x1="105.60" y1="345.18" x2="107.60" y2="345.18" stroke="#3fa535" stroke-width="0.5"/>
<line x1="109.20" y1="342.79" x2="109.20" y2="346.79" stroke="#3fa535" stroke-width="0.5"/>
<line x1="108.20" y1="342.79" x2="110.20" y2="342.79" stroke="#3fa535" stroke-width="0.5"/>
<line x1="108.20" y1="346.79" x2="110.20" y2="346.79" stroke="#3fa535" stroke-width="0.5"/>
<line x1="111.80" y1="341.99" x2="111.80" y2="345.99" stroke="#3fa535" stroke-width="0.5"/>
<line x1="110.80" y1="341.99" x2="112.80" y2="341.99" stroke="#3fa535" stroke-width="0.5"/>
<line x1="110.80" y1="345.99" x2="112.80" y2="345.99" stroke="#3fa535" stroke-width="0.5"/>
<line x1="114.40" y1="342.55" x2="114.40" y2="346.55" stroke="#3fa535" stroke-width="0.5"/>
<line x1="113.40" y1="342.55" x2="115.40" y2="342.55" stroke="#3fa535" stroke-width="0.5"/>
<line x1="113.40" y1="346.55" x2="115.40" y2="346.55" stroke="#3fa535" stroke-width="0.5"/>
<line x1="117.00" y1="343.09" x2="117.00" y2="347.09" stroke="#3fa535" stroke-width="0.5"/>
<line x1="116.00" y1="343.09" x2="118.00" y2="343.09" stroke="#3fa535" stroke-width="0.5"/>
<line x1="116.00" y1="347.09" x2="118.00" y2="347.09" stroke="#3fa535" stroke-width="0.5"/>
<line x1="119.60" y1="344.47" x2="119.60" y2="348.47" stroke="#3fa535" stroke-width="0.5"/>
<line x1="118.60" y1="344.47" x2="120.60" y2="344.47" stroke="#3fa535" stroke-width="0.5"/>
<line x1="118.60" y1="348.47" x2="120.60" y2="348.47" stroke="#3fa535" stroke-width="0.5"/>
<line x1="122.20" y1="346.93" x2="122.20" y2="357.74" stroke="#3fa535" stroke-width="0.5"/>
<line x1="121.20" y1="346.93" x2="123.20" y2="346.93" stroke="#3fa535" stroke-width="0.5"/>
<line x1="121.20" y1="357.74" x2="123.20" y2="357.74" stroke="#3fa535" stroke-width="0.5"/>
<line x1="124.80" y1="358.37" x2="124.80" y2="365.01" stroke="#3fa535" stroke-width="0.5"/>
<line x1="123.80" y1="358.37" x2="125.80" y2="358.37" stroke="#3fa535" stroke-width="0.5"/>
<line x1="123.80" y1="365.01" x2="125.80" y2="365.01" stroke="#3fa535" stroke-width="0.5"/>
<line x1="127.40" y1="373.44" x2="127.40" y2="380.30" stroke="#3fa535" stroke-width="0.5"/>
<line x1="126.40" y1="373.44" x2="128.40" y2="373.44" stroke="#3fa535" stroke-width="0.5"/>
<line x1="126.40" y1="380.30" x2="128.40" y2="380.30" stroke="#3fa535" stroke-width="0.5"/>
<line x1="130.00" y1="384.52" x2="130.00" y2="395.83" stroke="#3fa535" stroke-width="0.5"/>
<line x1="129.00" y1="384.52" x2="131.00" y2="384.52" stroke="#3fa535" stroke-width="0.5"/>
<line x1="129.00" y1="395.83" x2="131.00" y2="395.83" stroke="#3fa535" stroke-width="0.5"/>
<line x1="132.60" y1="398.08" x2="132.60" y2="403.87" stroke="#3fa535" stroke-width="0.5"/>
<line x1="131.60" y1="398.08" x2="133.60" y2="398.08" stroke="#3fa535" stroke-width="0.5"/>
<line x1="131.60" y1="403.87" x2="133.60" y2="403.87" stroke="#3fa535" stroke-width="0.5"/>
<line x1="135.20" y1="403.67" x2="135.20" y2="407.67" stroke="#3fa535" stroke-width="0.5"/>
<line x1="134.20" y1="403.67" x2="136.20" y2="403.67" stroke="#3fa535" stroke-width="0.5"/>
<line x1="134.20" y1="407.67" x2="136.20" y2="407.67" stroke="#3fa535" stroke-width="0.5"/>
<line x1="137.80" y1="404.18" x2="137.80" y2="408.18" stroke="#3fa535" stroke-width="0.5"/>
<line x1="136.80" y1="404.18" x2="138.80" y2="404.18" stroke="#3fa535" stroke-width="0.5"/>
<line x1="136.80" y1="408.18" x2="138.80" y2="408.18" stroke="#3fa535" stroke-width="0.5"/>
<line x1="140.40" y1="406.30" x2="140.40" y2="410.30" stroke="#3fa535" stroke-width="0.5"/>
<line x1="139.40" y1="406.30" x2="141.40" y2="406.30" stroke="#3fa535" stroke-width="0.5"/>
<line x1="139.40" y1="410.30" x2="141.40" y2="410.30" stroke="#3fa535" stroke-width="0.5"/>
<line x1="143.00" y1="405.92" x2="143.00" y2="409.92" stroke="#3fa535" stroke-width="0.5"/>
<line x1="142.00" y1="405.92" x2="144.00" y2="405.92" stroke="#3fa535" stroke-width="0.5"/>
<line x1="142.00" y1="409.92" x2="144.00" y2="409.92" stroke="#3fa535" stroke-width="0.5"/>
<line x1="145.60" y1="406.30" x2="145.60" y2="410.30" stroke="#3fa535" stroke-width="0.5"/>
<line x1="144.60" y1="406.30" x2="146.60" y2="406.30" stroke="#3fa535" stroke-width="0.5"/>
<line x1="144.60" y1="410.30" x2="146.60" y2="410.30" stroke="#3fa535" stroke-width="0.5"/>
<line x1="148.20" y1="405.96" x2="148.20" y2="409.96" stroke="#3fa535" stroke-width="0.5"/>
<line x1="147.20" y1="405.96" x2="149.20" y2="405.96" stroke="#3fa535" stroke-width="0.5"/>
<line x1="147.20" y1="409.96" x2="149.20" y2="409.96" stroke="#3fa535" stroke-width="0.5"/>
<line x1="150.80" y1="406.30" x2="150.80" y2="410.30" stroke="#3fa535" stroke-width="0.5"/>
<line x1="149.80" y1="406.30" x2="151.80" y2="406.30" stroke="#3fa535" stroke-width="0.5"/>
<line x1="149.80" y1="410.30" x2="151.80" y2="410.30" stroke="#3fa535" stroke-width="0.5"/>
<line x1="156.80" y1="405.92" x2="156.80" y2="409.92" stroke="#3fa535" stroke-width="0.5"/>
<line x1="155.80" y1="405.92" x2="157.80" y2="405.92" stroke="#3fa535" stroke-width="0.5"/>
<line x1="155.80" y1="409.92" x2="157.80" y2="409.92" stroke="#3fa535" stroke-width="0.5"/>
<line x1="162.80" y1="406.30" x2="162.80" y2="410.30" stroke="#3fa535" stroke-width="0.5"/>
<line x1="161.80" y1="406.30" x2="163.80" y2="406.30" stroke="#3fa535" stroke-width="0.5"/>
<line x1="161.80" y1="410.30" x2="163.80" y2="410.30" stroke="#3fa535" stroke-width="0.5"/>
<line x1="42.20" y1="341.57" x2="42.20" y2="345.57" stroke="#1d4e78" stroke-width="0.5"/>
<line x1="41.20" y1="341.57" x2="43.20" y2="341.57" stroke="#1d4e78" stroke-width="0.5"/>
<line x1="41.20" y1="345.57" x2="43.20" y2="345.57" stroke="#1d4e78" stroke-width="0.5"/>
<line x1="60.40" y1="340.14" x2="60.40" y2="344.14" stroke="#1d4e78" stroke-width="0.5"/>
<line x1="59.40" y1="340.14" x2="61.40" y2="340.14" stroke="#1d4e78" stroke-width="0.5"/>
<line x1="59.40" y1="344.14" x2="61.40" y2="344.14" stroke="#1d4e78" stroke-width="0.5"/>
<line x1="78.50" y1="340.31" x2="78.50" y2="344.31" stroke="#1d4e78" stroke-width="0.5"/>
<line x1="77.50" y1="340.31" x2="79.50" y2="340.31" stroke="#1d4e78" stroke-width="0.5"/>
<line x1="77.50" y1="344.31" x2="79.50" y2="344.31" stroke="#1d4e78" stroke-width="0.5"/>
<line x1="91.20" y1="341.33" x2="91.20" y2="345.33" stroke="#1d4e78" stroke-width="0.5"/>
<line x1="90.20" y1="341.33" x2="92.20" y2="341.33" stroke="#1d4e78" stroke-width="0.5"/>
<line x1="90.20" y1="345.33" x2="92.20" y2="345.33" stroke="#1d4e78" stroke-width="0.5"/>
<line x1="96.40" y1="340.85" x2="96.40" y2="344.85" stroke="#1d4e78" stroke-width="0.5"/>
<line x1="95.40" y1="340.85" x2="97.40" y2="340.85" stroke="#1d4e78" stroke-width="0.5"/>
<line x1="95.40" y1="344.85" x2="97.40" y2="344.85" stroke="#1d4e78" stroke-width="0.5"/>
<line x1="101.90" y1="340.94" x2="101.90" y2="344.94" stroke="#1d4e78" stroke-width="0.5"/>
<line x1="100.90" y1="340.94" x2="102.90" y2="340.94" stroke="#1d4e78" stroke-width="0.5"/>
<line x1="100.90" y1="344.94" x2="102.90" y2="344.94" stroke="#1d4e78" stroke-width="0.5"/>
<line x1="106.00" y1="340.53" x2="106.00" y2="344.53" stroke="#1d4e78" stroke-width="0.5"/>
<line x1="105.00" y1="340.53" x2="107.00" y2="340.53" stroke="#1d4e78" stroke-width="0.5"/>
<line x1="105.00" y1="344.53" x2="107.00" y2="344.53" stroke="#1d4e78" stroke-width="0.5"/>
<line x1="108.60" y1="340.26" x2="108.60" y2="344.26" stroke="#1d4e78" stroke-width="0.5"/>
<line x1="107.60" y1="340.26" x2="109.60" y2="340.26" stroke="#1d4e78" stroke-width="0.5"/>
<line x1="107.60" y1="344.26" x2="109.60" y2="344.26" stroke="#1d4e78" stroke-width="0.5"/>
<line x1="111.20" y1="341.65" x2="111.20" y2="345.65" stroke="#1d4e78" stroke-width="0.5"/>
<line x1="110.20" y1="341.65" x2="112.20" y2="341.65" stroke="#1d4e78" stroke-width="0.5"/>
<line x1="110.20" y1="345.65" x2="112.20" y2="345.65" stroke="#1d4e78" stroke-width="0.5"/>
<line x1="113.80" y1="341.79" x2="113.80" y2="345.79" stroke="#1d4e78" stroke-width="0.5"/>
<line x1="112.80" y1="341.79" x2="114.80" y2="341.79" stroke="#1d4e78" stroke-width="0.5"/>
<line x1="112.80" y1="345.79" x2="114.80" y2="345.79" stroke="#1d4e78" stroke-width="0.5"/>
<line x1="116.40" y1="340.19" x2="116.40" y2="344.19" stroke="#1d4e78" stroke-width="0.5"/>
<line x1="115.40" y1="340.19" x2="117.40" y2="340.19" stroke="#1d4e78" stroke-width="0.5"/>
<line x1="115.40" y1="344.19" x2="117.40" y2="344.19" stroke="#1d4e78" stroke-width="0.5"/>
<line x1="119.00" y1="341.04" x2="119.00" y2="345.04" stroke="#1d4e78" stroke-width="0.5"/>
<line x1="118.00" y1="341.04" x2="120.00" y2="341.04" stroke="#1d4e78" stroke-width="0.5"/>
<line x1="118.00" y1="345.04" x2="120.00" y2="345.04" stroke="#1d4e78" stroke-width="0.5"/>
<line x1="121.60" y1="340.46" x2="121.60" y2="344.46" stroke="#1d4e78" stroke-width="0.5"/>
<line x1="120.60" y1="340.46" x2="122.60" y2="340.46" stroke="#1d4e78" stroke-width="0.5"/>
<line x1="120.60" y1="344.46" x2="122.60" y2="344.46" stroke="#1d4e78" stroke-width="0.5"/>
<line x1="124.20" y1="342.18" x2="124.20" y2="346.18" stroke="#1d4e78" stroke-width="0.5"/>
<line x1="123.20" y1="342.18" x2="125.20" y2="342.18" stroke="#1d4e78" stroke-width="0.5"/>
<line x1="123.20" y1="346.18" x2="125.20" y2="346.18" stroke="#1d4e78" stroke-width="0.5"/>
<line x1="126.80" y1="341.76" x2="126.80" y2="345.76" stroke="#1d4e78" stroke-width="0.5"/>
<line x1="125.80" y1="341.76" x2="127.80" y2="341.76" stroke="#1d4e78" stroke-width="0.5"/>
<line x1="125.80" y1="345.76" x2="127.80" y2="345.76" stroke="#1d4e78" stroke-width="0.5"/>
<line x1="129.40" y1="342.26" x2="129.40" y2="346.26" stroke="#1d4e78" stroke-width="0.5"/>
<line x1="128.40" y1="342.26" x2="130.40" y2="342.26" stroke="#1d4e78" stroke-width="0.5"/>
<line x1="128.40" y1="346.26" x2="130.40" y2="346.26" stroke="#1d4e78" stroke-width="0.5"/>
<line x1="132.00" y1="345.59" x2="132.00" y2="349.59" stroke="#1d4e78" stroke-width="0.5"/>
<line x1="131.00" y1="345.59" x2="133.00" y2="345.59" stroke="#1d4e78" stroke-width="0.5"/>
<line x1="131.00" y1="349.59" x2="133.00" y2="349.59" stroke="#1d4e78" stroke-width="0.5"/>
<line x1="134.60" y1="343.26" x2="134.60" y2="354.57" stroke="#1d4e78" stroke-width="0.5"/>
<line x1="133.60" y1="343.26" x2="135.60" y2="343.26" stroke="#1d4e78" stroke-width="0.5"/>
<line x1="133.60" y1="354.57" x2="135.60" y2="354.57" stroke="#1d4e78" stroke-width="0.5"/>
<line x1="137.20" y1="361.25" x2="137.20" y2="366.43" stroke="#1d4e78" stroke-width="0.5"/>
<line x1="136.20" y1="361.25" x2="138.20" y2="361.25" stroke="#1d4e78" stroke-width="0.5"/>
<line x1="136.20" y1="366.43" x2="138.20" y2="366.43" stroke="#1d4e78" stroke-width="0.5"/>
<line x1="139.80" y1="367.37" x2="139.80" y2="378.94" stroke="#1d4e78" stroke-width="0.5"/>
<line x1="138.80" y1="367.37" x2="140.80" y2="367.37" stroke="#1d4e78" stroke-width="0.5"/>
<line x1="138.80" y1="378.94" x2="140.80" y2="378.94" stroke="#1d4e78" stroke-width="0.5"/>
<line x1="142.40" y1="384.38" x2="142.40" y2="390.90" stroke="#1d4e78" stroke-width="0.5"/>
<line x1="141.40" y1="384.38" x2="143.40" y2="384.38" stroke="#1d4e78" stroke-width="0.5"/>
<line x1="141.40" y1="390.90" x2="143.40" y2="390.90" stroke="#1d4e78" stroke-width="0.5"/>
<line x1="145.00" y1="394.92" x2="145.00" y2="400.13" stroke="#1d4e78" stroke-width="0.5"/>
<line x1="144.00" y1="394.92" x2="146.00" y2="394.92" stroke="#1d4e78" stroke-width="0.5"/>
<line x1="144.00" y1="400.13" x2="146.00" y2="400.13" stroke="#1d4e78" stroke-width="0.5"/>
<line x1="147.60" y1="400.77" x2="147.60" y2="408.83" stroke="#1d4e78" stroke-width="0.5"/>
<line x1="146.60" y1="400.77" x2="148.60" y2="400.77" stroke="#1d4e78" stroke-width="0.5"/>
<line x1="146.60" y1="408.83" x2="148.60" y2="408.83" stroke="#1d4e78" stroke-width="0.5"/>
<line x1="150.20" y1="403.90" x2="150.20" y2="407.90" stroke="#1d4e78" stroke-width="0.5"/>
<line x1="149.20" y1="403.90" x2="151.20" y2="403.90" stroke="#1d4e78" stroke-width="0.5"/>
<line x1="149.20" y1="407.90" x2="151.20" y2="407.90" stroke="#1d4e78" stroke-width="0.5"/>
<line x1="156.20" y1="406.30" x2="156.20" y2="410.30" stroke="#1d4e78" stroke-width="0.5"/>
<line x1="155.20" y1="406.30" x2="157.20" y2="406.30" stroke="#1d4e78" stroke-width="0.5"/>
<line x1="155.20" y1="410.30" x2="157.20" y2="410.30" stroke="#1d4e78" stroke-width="0.5"/>
<line x1="162.20" y1="406.30" x2="162.20" y2="410.30" stroke="#1d4e78" stroke-width="0.5"/>
<line x1="161.20" y1="406.30" x2="163.20" y2="406.30" stroke="#1d4e78" stroke-width="0.5"/>
<line x1="161.20" y1="410.30" x2="163.20" y2="410.30" stroke="#1d4e78" stroke-width="0.5"/>
<circle cx="42.20" cy="346.08" r="1.6" fill="#a5c27c"/>
<circle cx="60.40" cy="346.48" r="1.6" fill="#a5c27c"/>
<circle cx="78.50" cy="345.48" r="1.6" fill="#a5c27c"/>
<circle cx="91.20" cy="346.60" r="1.6" fill="#a5c27c"/>
<circle cx="96.40" cy="346.16" r="1.6" fill="#a5c27c"/>
<circle cx="101.90" cy="346.49" r="1.6" fill="#a5c27c"/>
<circle cx="108.40" cy="346.35" r="1.6" fill="#a5c27c"/>
<circle cx="111.00" cy="345.23" r="1.6" fill="#a5c27c"/>
<circle cx="113.60" cy="346.99" r="1.6" fill="#a5c27c"/>
<circle cx="116.20" cy="346.33" r="1.6" fill="#a5c27c"/>
<circle cx="118.80" cy="346.88" r="1.6" fill="#a5c27c"/>
<circle cx="121.40" cy="346.95" r="1.6" fill="#a5c27c"/>
<circle cx="124.00" cy="346.62" r="1.6" fill="#a5c27c"/>
<circle cx="126.60" cy="351.64" r="1.6" fill="#a5c27c"/>
<circle cx="129.20" cy="358.51" r="1.6" fill="#a5c27c"/>
<circle cx="131.80" cy="372.85" r="1.6" fill="#a5c27c"/>
<circle cx="134.40" cy="389.95" r="1.6" fill="#a5c27c"/>
<circle cx="137.00" cy="398.80" r="1.6" fill="#a5c27c"/>
<circle cx="139.60" cy="406.29" r="1.6" fill="#a5c27c"/>
<circle cx="142.20" cy="407.09" r="1.6" fill="#a5c27c"/>
<circle cx="144.80" cy="408.30" r="1.6" fill="#a5c27c"/>
<circle cx="147.40" cy="408.19" r="1.6" fill="#a5c27c"/>
<circle cx="150.00" cy="408.30" r="1.6" fill="#a5c27c"/>
<circle cx="152.60" cy="408.30" r="1.6" fill="#a5c27c"/>
<circle cx="158.60" cy="407.73" r="1.6" fill="#a5c27c"/>
<circle cx="164.60" cy="408.27" r="1.6" fill="#a5c27c"/>
<circle cx="42.20" cy="344.26" r="1.6" fill="#8d86c3"/>
<circle cx="60.40" cy="345.89" r="1.6" fill="#8d86c3"/>
<circle cx="78.50" cy="346.13" r="1.6" fill="#8d86c3"/>
<circle cx="91.20" cy="344.17" r="1.6" fill="#8d86c3"/>
<circle cx="96.40" cy="345.81" r="1.6" fill="#8d86c3"/>
<circle cx="101.90" cy="345.93" r="1.6" fill="#8d86c3"/>
<circle cx="107.80" cy="344.88" r="1.6" fill="#8d86c3"/>
<circle cx="110.40" cy="345.51" r="1.6" fill="#8d86c3"/>
<circle cx="113.00" cy="344.47" r="1.6" fill="#8d86c3"/>
<circle cx="115.60" cy="345.98" r="1.6" fill="#8d86c3"/>
<circle cx="118.20" cy="345.19" r="1.6" fill="#8d86c3"/>
<circle cx="120.80" cy="349.49" r="1.6" fill="#8d86c3"/>
<circle cx="123.40" cy="351.89" r="1.6" fill="#8d86c3"/>
<circle cx="126.00" cy="366.51" r="1.6" fill="#8d86c3"/>
<circle cx="128.60" cy="391.25" r="1.6" fill="#8d86c3"/>
<circle cx="131.20" cy="400.21" r="1.6" fill="#8d86c3"/>
<circle cx="133.80" cy="406.56" r="1.6" fill="#8d86c3"/>
<circle cx="136.40" cy="406.90" r="1.6" fill="#8d86c3"/>
<circle cx="139.00" cy="407.93" r="1.6" fill="#8d86c3"/>
<circle cx="141.60" cy="407.36" r="1.6" fill="#8d86c3"/>
<circle cx="144.20" cy="407.73" r="1.6" fill="#8d86c3"/>
<circle cx="146.80" cy="407.37" r="1.6" fill="#8d86c3"/>
<circle cx="149.40" cy="408.17" r="1.6" fill="#8d86c3"/>
<circle cx="152.00" cy="407.90" r="1.6" fill="#8d86c3"/>
<circle cx="158.00" cy="408.07" r="1.6" fill="#8d86c3"/>
<circle cx="164.00" cy="408.30" r="1.6" fill="#8d86c3"/>
<circle cx="42.20" cy="342.24" r="1.6" fill="#eea233"/>
<circle cx="60.40" cy="344.15" r="1.6" fill="#eea233"/>
<circle cx="78.50" cy="342.70" r="1.6" fill="#eea233"/>
<circle cx="91.20" cy="343.86" r="1.6" fill="#eea233"/>
<circle cx="96.40" cy="342.20" r="1.6" fill="#eea233"/>
<circle cx="101.90" cy="344.16" r="1.6" fill="#eea233"/>
<circle cx="107.20" cy="342.49" r="1.6" fill="#eea233"/>
<circle cx="109.80" cy="342.99" r="1.6" fill="#eea233"/>
<circle cx="112.40" cy="342.83" r="1.6" fill="#eea233"/>
<circle cx="115.00" cy="342.96" r="1.6" fill="#eea233"/>
<circle cx="117.60" cy="345.36" r="1.6" fill="#eea233"/>
<circle cx="120.20" cy="346.93" r="1.6" fill="#eea233"/>
<circle cx="122.80" cy="348.65" r="1.6" fill="#eea233"/>
<circle cx="125.40" cy="357.77" r="1.6" fill="#eea233"/>
<circle cx="128.00" cy="363.33" r="1.6" fill="#eea233"/>
<circle cx="130.60" cy="375.63" r="1.6" fill="#eea233"/>
<circle cx="133.20" cy="386.19" r="1.6" fill="#eea233"/>
<circle cx="135.80" cy="399.32" r="1.6" fill="#eea233"/>
<circle cx="138.40" cy="403.26" r="1.6" fill="#eea233"/>
<circle cx="141.00" cy="405.42" r="1.6" fill="#eea233"/>
<circle cx="143.60" cy="407.25" r="1.6" fill="#eea233"/>
<circle cx="146.20" cy="407.53" r="1.6" fill="#eea233"/>
<circle cx="148.80" cy="407.14" r="1.6" fill="#eea233"/>
<circle cx="151.40" cy="407.87" r="1.6" fill="#eea233"/>
<circle cx="157.40" cy="408.30" r="1.6" fill="#eea233"/>
<circle cx="163.40" cy="407.57" r="1.6" fill="#eea233"/>
<circle cx="42.20" cy="344.72" r="1.6" fill="#3fa535"/>
<circle cx="60.40" cy="343.25" r="1.6" fill="#3fa535"/>
<circle cx="78.50" cy="344.92" r="1.6" fill="#3fa535"/>
<circle cx="91.20" cy="343.76" r="1.6" fill="#3fa535"/>
<circle cx="96.40" cy="345.00" r="1.6" fill="#3fa535"/>
<circle cx="101.90" cy="344.68" r="1.6" fill="#3fa535"/>
<circle cx="106.60" cy="343.18" r="1.6" fill="#3fa535"/>
<circle cx="109.20" cy="344.79" r="1.6" fill="#3fa535"/>
<circle cx="111.80" cy="343.99" r="1.6" fill="#3fa535"/>
<circle cx="114.40" cy="344.55" r="1.6" fill="#3fa535"/>
<circle cx="117.00" cy="345.09" r="1.6" fill="#3fa535"/>
<circle cx="119.60" cy="346.47" r="1.6" fill="#3fa535"/>
<circle cx="122.20" cy="352.34" r="1.6" fill="#3fa535"/>
<circle cx="124.80" cy="361.69" r="1.6" fill="#3fa535"/>
<circle cx="127.40" cy="376.87" r="1.6" fill="#3fa535"/>
<circle cx="130.00" cy="390.17" r="1.6" fill="#3fa535"/>
<circle cx="132.60" cy="400.98" r="1.6" fill="#3fa535"/>
<circle cx="135.20" cy="405.67" r="1.6" fill="#3fa535"/>
<circle cx="137.80" cy="406.18" r="1.6" fill="#3fa535"/>
<circle cx="140.40" cy="408.30" r="1.6" fill="#3fa535"/>
<circle cx="143.00" cy="407.92" r="1.6" fill="#3fa535"/>
<circle cx="145.60" cy="408.30" r="1.6" fill="#3fa535"/>
<circle cx="148.20" cy="407.96" r="1.6" fill="#3fa535"/>
<circle cx="150.80" cy="408.30" r="1.6" fill="#3fa535"/>
<circle cx="156.80" cy="407.92" r="1.6" fill="#3fa535"/>
<circle cx="162.80" cy="408.30" r="1.6" fill="#3fa535"/>
<circle cx="42.20" cy="343.57" r="1.6" fill="#1d4e78"/>
<circle cx="60.40" cy="342.14" r="1.6" fill="#1d4e78"/>
<circle cx="78.50" cy="342.31" r="1.6" fill="#1d4e78"/>
<circle cx="91.20" cy="343.33" r="1.6" fill="#1d4e78"/>
<circle cx="96.40" cy="342.85" r="1.6" fill="#1d4e78"/>
<circle cx="101.90" cy="342.94" r="1.6" fill="#1d4e78"/>
<circle cx="106.00" cy="342.53" r="1.6" fill="#1d4e78"/>
<circle cx="108.60" cy="342.26" r="1.6" fill="#1d4e78"/>
<circle cx="111.20" cy="343.65" r="1.6" fill="#1d4e78"/>
<circle cx="113.80" cy="343.79" r="1.6" fill="#1d4e78"/>
<circle cx="116.40" cy="342.19" r="1.6" fill="#1d4e78"/>
<circle cx="119.00" cy="343.04" r="1.6" fill="#1d4e78"/>
<circle cx="121.60" cy="342.46" r="1.6" fill="#1d4e78"/>
<circle cx="124.20" cy="344.18" r="1.6" fill="#1d4e78"/>
<circle cx="126.80" cy="343.76" r="1.6" fill="#1d4e78"/>
<circle cx="129.40" cy="344.26" r="1.6" fill="#1d4e78"/>
<circle cx="132.00" cy="347.59" r="1.6" fill="#1d4e78"/>
<circle cx="134.60" cy="348.92" r="1.6" fill="#1d4e78"/>
<circle cx="137.20" cy="363.84" r="1.6" fill="#1d4e78"/>
<circle cx="139.80" cy="373.16" r="1.6" fill="#1d4e78"/>
<circle cx="142.40" cy="387.64" r="1.6" fill="#1d4e78"/>
<circle cx="145.00" cy="397.52" r="1.6" fill="#1d4e78"/>
<circle cx="147.60" cy="404.80" r="1.6" fill="#1d4e78"/>
<circle cx="150.20" cy="405.90" r="1.6" fill="#1d4e78"/>
<circle cx="156.20" cy="408.30" r="1.6" fill="#1d4e78"/>
<circle cx="162.20" cy="408.30" r="1.6" fill="#1d4e78"/>
<circle cx="112.00" cy="347.00" r="1.9" fill="#eea233"/>
<circle cx="108.50" cy="346.00" r="2.0" fill="#a5c27c"/>
<circle cx="110.50" cy="345.30" r="2.2" fill="#3fa535"/>
<circle cx="114.00" cy="345.00" r="2.0" fill="#3fa535"/>
<circle cx="109.00" cy="342.60" r="2.4" fill="#1d4e78"/>
<circle cx="112.50" cy="342.00" r="2.5" fill="#1d4e78"/>
<circle cx="115.20" cy="343.00" r="2.0" fill="#1d4e78"/>
<line x1="42.20" y1="347.00" x2="42.20" y2="351.00" stroke="#d9506e" stroke-width="0.6"/>
<line x1="41.20" y1="347.00" x2="43.20" y2="347.00" stroke="#d9506e" stroke-width="0.6"/>
<line x1="41.20" y1="351.00" x2="43.20" y2="351.00" stroke="#d9506e" stroke-width="0.6"/>
<line x1="60.40" y1="340.50" x2="60.40" y2="350.50" stroke="#d9506e" stroke-width="0.6"/>
<line x1="59.40" y1="340.50" x2="61.40" y2="340.50" stroke="#d9506e" stroke-width="0.6"/>
<line x1="59.40" y1="350.50" x2="61.40" y2="350.50" stroke="#d9506e" stroke-width="0.6"/>
<line x1="78.50" y1="338.10" x2="78.50" y2="366.10" stroke="#d9506e" stroke-width="0.6"/>
<line x1="77.50" y1="338.10" x2="79.50" y2="338.10" stroke="#d9506e" stroke-width="0.6"/>
<line x1="77.50" y1="366.10" x2="79.50" y2="366.10" stroke="#d9506e" stroke-width="0.6"/>
<line x1="91.20" y1="340.00" x2="91.20" y2="380.00" stroke="#d9506e" stroke-width="0.6"/>
<line x1="90.20" y1="340.00" x2="92.20" y2="340.00" stroke="#d9506e" stroke-width="0.6"/>
<line x1="90.20" y1="380.00" x2="92.20" y2="380.00" stroke="#d9506e" stroke-width="0.6"/>
<line x1="96.40" y1="340.40" x2="96.40" y2="382.40" stroke="#d9506e" stroke-width="0.6"/>
<line x1="95.40" y1="340.40" x2="97.40" y2="340.40" stroke="#d9506e" stroke-width="0.6"/>
<line x1="95.40" y1="382.40" x2="97.40" y2="382.40" stroke="#d9506e" stroke-width="0.6"/>
<line x1="101.90" y1="343.40" x2="101.90" y2="391.40" stroke="#d9506e" stroke-width="0.6"/>
<line x1="100.90" y1="343.40" x2="102.90" y2="343.40" stroke="#d9506e" stroke-width="0.6"/>
<line x1="100.90" y1="391.40" x2="102.90" y2="391.40" stroke="#d9506e" stroke-width="0.6"/>
<line x1="106.50" y1="350.50" x2="106.50" y2="390.50" stroke="#d9506e" stroke-width="0.6"/>
<line x1="105.50" y1="350.50" x2="107.50" y2="350.50" stroke="#d9506e" stroke-width="0.6"/>
<line x1="105.50" y1="390.50" x2="107.50" y2="390.50" stroke="#d9506e" stroke-width="0.6"/>
<line x1="108.20" y1="349.50" x2="108.20" y2="393.50" stroke="#d9506e" stroke-width="0.6"/>
<line x1="107.20" y1="349.50" x2="109.20" y2="349.50" stroke="#d9506e" stroke-width="0.6"/>
<line x1="107.20" y1="393.50" x2="109.20" y2="393.50" stroke="#d9506e" stroke-width="0.6"/>
<line x1="110.00" y1="350.00" x2="110.00" y2="390.00" stroke="#d9506e" stroke-width="0.6"/>
<line x1="109.00" y1="350.00" x2="111.00" y2="350.00" stroke="#d9506e" stroke-width="0.6"/>
<line x1="109.00" y1="390.00" x2="111.00" y2="390.00" stroke="#d9506e" stroke-width="0.6"/>
<line x1="111.80" y1="356.00" x2="111.80" y2="392.00" stroke="#d9506e" stroke-width="0.6"/>
<line x1="110.80" y1="356.00" x2="112.80" y2="356.00" stroke="#d9506e" stroke-width="0.6"/>
<line x1="110.80" y1="392.00" x2="112.80" y2="392.00" stroke="#d9506e" stroke-width="0.6"/>
<line x1="114.20" y1="373.90" x2="114.20" y2="393.90" stroke="#d9506e" stroke-width="0.6"/>
<line x1="113.20" y1="373.90" x2="115.20" y2="373.90" stroke="#d9506e" stroke-width="0.6"/>
<line x1="113.20" y1="393.90" x2="115.20" y2="393.90" stroke="#d9506e" stroke-width="0.6"/>
<line x1="117.20" y1="384.00" x2="117.20" y2="400.00" stroke="#d9506e" stroke-width="0.6"/>
<line x1="116.20" y1="384.00" x2="118.20" y2="384.00" stroke="#d9506e" stroke-width="0.6"/>
<line x1="116.20" y1="400.00" x2="118.20" y2="400.00" stroke="#d9506e" stroke-width="0.6"/>
<line x1="120.60" y1="395.60" x2="120.60" y2="405.60" stroke="#d9506e" stroke-width="0.6"/>
<line x1="119.60" y1="395.60" x2="121.60" y2="395.60" stroke="#d9506e" stroke-width="0.6"/>
<line x1="119.60" y1="405.60" x2="121.60" y2="405.60" stroke="#d9506e" stroke-width="0.6"/>
<line x1="123.00" y1="404.30" x2="123.00" y2="408.30" stroke="#d9506e" stroke-width="0.6"/>
<line x1="122.00" y1="404.30" x2="124.00" y2="404.30" stroke="#d9506e" stroke-width="0.6"/>
<line x1="122.00" y1="408.30" x2="124.00" y2="408.30" stroke="#d9506e" stroke-width="0.6"/>
<line x1="125.50" y1="405.80" x2="125.50" y2="407.80" stroke="#d9506e" stroke-width="0.6"/>
<line x1="124.50" y1="405.80" x2="126.50" y2="405.80" stroke="#d9506e" stroke-width="0.6"/>
<line x1="124.50" y1="407.80" x2="126.50" y2="407.80" stroke="#d9506e" stroke-width="0.6"/>
<line x1="128.00" y1="406.20" x2="128.00" y2="408.20" stroke="#d9506e" stroke-width="0.6"/>
<line x1="127.00" y1="406.20" x2="129.00" y2="406.20" stroke="#d9506e" stroke-width="0.6"/>
<line x1="127.00" y1="408.20" x2="129.00" y2="408.20" stroke="#d9506e" stroke-width="0.6"/>
<line x1="130.50" y1="406.50" x2="130.50" y2="408.50" stroke="#d9506e" stroke-width="0.6"/>
<line x1="129.50" y1="406.50" x2="131.50" y2="406.50" stroke="#d9506e" stroke-width="0.6"/>
<line x1="129.50" y1="408.50" x2="131.50" y2="408.50" stroke="#d9506e" stroke-width="0.6"/>
<circle cx="42.20" cy="349.00" r="1.6" fill="#c0173f"/>
<circle cx="60.40" cy="345.50" r="1.6" fill="#c0173f"/>
<circle cx="78.50" cy="352.10" r="1.6" fill="#c0173f"/>
<circle cx="91.20" cy="360.00" r="1.6" fill="#c0173f"/>
<circle cx="96.40" cy="361.40" r="1.6" fill="#c0173f"/>
<circle cx="101.90" cy="367.40" r="1.6" fill="#c0173f"/>
<circle cx="106.50" cy="370.50" r="1.6" fill="#c0173f"/>
<circle cx="108.20" cy="371.50" r="1.6" fill="#c0173f"/>
<circle cx="110.00" cy="370.00" r="1.6" fill="#c0173f"/>
<circle cx="111.80" cy="374.00" r="1.6" fill="#c0173f"/>
<circle cx="114.20" cy="383.90" r="1.6" fill="#c0173f"/>
<circle cx="117.20" cy="392.00" r="1.6" fill="#c0173f"/>
<circle cx="120.60" cy="400.60" r="1.6" fill="#c0173f"/>
<circle cx="123.00" cy="406.30" r="1.6" fill="#c0173f"/>
<circle cx="125.50" cy="406.80" r="1.6" fill="#c0173f"/>
<circle cx="128.00" cy="407.20" r="1.6" fill="#c0173f"/>
<circle cx="130.50" cy="407.50" r="1.6" fill="#c0173f"/>
<line x1="181.20" y1="343.50" x2="191.50" y2="343.50" stroke="#1d4e78" stroke-width="0.9"/>
<circle cx="186.30" cy="343.50" r="1.9" fill="#1d4e78"/>
<text x="195.40" y="345.60" font-size="6.0" text-anchor="start" fill="#222" font-weight="normal" font-style="normal" stroke="#222" stroke-width="0.1">RC-K8 (EC50: 0.25 µM)</text>
<line x1="181.20" y1="353.20" x2="191.50" y2="353.20" stroke="#3fa535" stroke-width="0.9"/>
<circle cx="186.30" cy="353.20" r="1.9" fill="#3fa535"/>
<text x="195.40" y="355.30" font-size="6.0" text-anchor="start" fill="#222" font-weight="normal" font-style="normal" stroke="#222" stroke-width="0.1">OCI-LY19 (EC50: 0.054 µM)</text>
<line x1="181.20" y1="362.90" x2="191.50" y2="362.90" stroke="#eea233" stroke-width="0.9"/>
<circle cx="186.30" cy="362.90" r="1.9" fill="#eea233"/>
<text x="195.40" y="365.00" font-size="6.0" text-anchor="start" fill="#222" font-weight="normal" font-style="normal" stroke="#222" stroke-width="0.1">Farage (EC50: 0.068 µM)</text>
<line x1="181.20" y1="372.60" x2="191.50" y2="372.60" stroke="#8d86c3" stroke-width="0.9"/>
<circle cx="186.30" cy="372.60" r="1.9" fill="#8d86c3"/>
<text x="195.40" y="374.70" font-size="6.0" text-anchor="start" fill="#222" font-weight="normal" font-style="normal" stroke="#222" stroke-width="0.1">SU-DHL-4 (EC50: 0.048 µM)</text>
<line x1="181.20" y1="382.30" x2="191.50" y2="382.30" stroke="#a5c27c" stroke-width="0.9"/>
<circle cx="186.30" cy="382.30" r="1.9" fill="#a5c27c"/>
<text x="195.40" y="384.40" font-size="6.0" text-anchor="start" fill="#222" font-weight="normal" font-style="normal" stroke="#222" stroke-width="0.1">KML-1 (EC50: 0.095 µM)</text>
<line x1="181.20" y1="392.00" x2="191.50" y2="392.00" stroke="#c0173f" stroke-width="0.9"/>
<circle cx="186.30" cy="392.00" r="1.9" fill="#c0173f"/>
<text x="195.40" y="394.10" font-size="6.0" text-anchor="start" fill="#222" font-weight="normal" font-style="normal" stroke="#222" stroke-width="0.1">Toledo (EC50: 0.0067 µM)</text>
<text x="0.00" y="0.00" font-size="11" text-anchor="start" fill="#111" font-weight="bold" font-style="normal" transform="translate(215.50,16.20) scale(0.97,1)" stroke="#111" stroke-width="0.3">D</text>
<line x1="250.20" y1="49.00" x2="250.20" y2="131.20" stroke="#222" stroke-width="1.1"/>
<line x1="249.70" y1="130.70" x2="357.00" y2="130.70" stroke="#222" stroke-width="1.1"/>
<line x1="247.80" y1="126.70" x2="250.20" y2="126.70" stroke="#222" stroke-width="0.9"/>
<text x="245.00" y="128.90" font-size="6.3" text-anchor="end" fill="#222" font-weight="normal" font-style="normal" stroke="#222" stroke-width="0.1">0</text>
<line x1="247.80" y1="108.10" x2="250.20" y2="108.10" stroke="#222" stroke-width="0.9"/>
<text x="243.60" y="110.30" font-size="6.3" text-anchor="end" fill="#222" font-weight="normal" font-style="normal" stroke="#222" stroke-width="0.1">1×10<tspan font-size="4.2" dy="-2.4">6</tspan></text>
<line x1="247.80" y1="89.50" x2="250.20" y2="89.50" stroke="#222" stroke-width="0.9"/>
<text x="243.60" y="91.70" font-size="6.3" text-anchor="end" fill="#222" font-weight="normal" font-style="normal" stroke="#222" stroke-width="0.1">2×10<tspan font-size="4.2" dy="-2.4">6</tspan></text>
<line x1="247.80" y1="70.90" x2="250.20" y2="70.90" stroke="#222" stroke-width="0.9"/>
<text x="243.60" y="73.10" font-size="6.3" text-anchor="end" fill="#222" font-weight="normal" font-style="normal" stroke="#222" stroke-width="0.1">3×10<tspan font-size="4.2" dy="-2.4">6</tspan></text>
<line x1="247.80" y1="52.30" x2="250.20" y2="52.30" stroke="#222" stroke-width="0.9"/>
<text x="243.60" y="54.50" font-size="6.3" text-anchor="end" fill="#222" font-weight="normal" font-style="normal" stroke="#222" stroke-width="0.1">4×10<tspan font-size="4.2" dy="-2.4">6</tspan></text>
<line x1="261.60" y1="130.70" x2="261.60" y2="132.20" stroke="#222" stroke-width="0.6"/>
<line x1="266.90" y1="130.70" x2="266.90" y2="132.20" stroke="#222" stroke-width="0.6"/>
<line x1="277.50" y1="130.70" x2="277.50" y2="132.20" stroke="#222" stroke-width="0.6"/>
<line x1="282.80" y1="130.70" x2="282.80" y2="132.20" stroke="#222" stroke-width="0.6"/>
<line x1="293.40" y1="130.70" x2="293.40" y2="132.20" stroke="#222" stroke-width="0.6"/>
<line x1="298.70" y1="130.70" x2="298.70" y2="132.20" stroke="#222" stroke-width="0.6"/>
<line x1="309.30" y1="130.70" x2="309.30" y2="132.20" stroke="#222" stroke-width="0.6"/>
<line x1="314.60" y1="130.70" x2="314.60" y2="132.20" stroke="#222" stroke-width="0.6"/>
<line x1="325.20" y1="130.70" x2="325.20" y2="132.20" stroke="#222" stroke-width="0.6"/>
<line x1="330.50" y1="130.70" x2="330.50" y2="132.20" stroke="#222" stroke-width="0.6"/>
<line x1="341.10" y1="130.70" x2="341.10" y2="132.20" stroke="#222" stroke-width="0.6"/>
<line x1="346.40" y1="130.70" x2="346.40" y2="132.20" stroke="#222" stroke-width="0.6"/>
<line x1="256.30" y1="130.70" x2="256.30" y2="133.20" stroke="#222" stroke-width="0.9"/>
<text x="256.30" y="141.80" font-size="5.8" text-anchor="middle" fill="#222" font-weight="normal" font-style="normal" stroke="#222" stroke-width="0.1">0</text>
<line x1="272.20" y1="130.70" x2="272.20" y2="133.20" stroke="#222" stroke-width="0.9"/>
<text x="272.20" y="141.80" font-size="5.8" text-anchor="middle" fill="#222" font-weight="normal" font-style="normal" stroke="#222" stroke-width="0.1">3</text>
<line x1="288.10" y1="130.70" x2="288.10" y2="133.20" stroke="#222" stroke-width="0.9"/>
<text x="288.10" y="141.80" font-size="5.8" text-anchor="middle" fill="#222" font-weight="normal" font-style="normal" stroke="#222" stroke-width="0.1">6</text>
<line x1="304.00" y1="130.70" x2="304.00" y2="133.20" stroke="#222" stroke-width="0.9"/>
<text x="304.00" y="141.80" font-size="5.8" text-anchor="middle" fill="#222" font-weight="normal" font-style="normal" stroke="#222" stroke-width="0.1">9</text>
<line x1="319.90" y1="130.70" x2="319.90" y2="133.20" stroke="#222" stroke-width="0.9"/>
<text x="319.90" y="141.80" font-size="5.8" text-anchor="middle" fill="#222" font-weight="normal" font-style="normal" stroke="#222" stroke-width="0.1">12</text>
<line x1="335.80" y1="130.70" x2="335.80" y2="133.20" stroke="#222" stroke-width="0.9"/>
<text x="335.80" y="141.80" font-size="5.8" text-anchor="middle" fill="#222" font-weight="normal" font-style="normal" stroke="#222" stroke-width="0.1">15</text>
<line x1="351.70" y1="130.70" x2="351.70" y2="133.20" stroke="#222" stroke-width="0.9"/>
<text x="351.70" y="141.80" font-size="5.8" text-anchor="middle" fill="#222" font-weight="normal" font-style="normal" stroke="#222" stroke-width="0.1">18</text>
<text x="0.00" y="0.00" font-size="8" text-anchor="middle" fill="#222" font-weight="bold" font-style="normal" transform="translate(304.20,154.40) scale(0.65,1)" stroke="#222" stroke-width="0.08">Days after selection</text>
<text x="0.00" y="0.00" font-size="8" text-anchor="middle" fill="#222" font-weight="bold" font-style="normal" transform="translate(222.80,90.30) rotate(-90) scale(0.65,1)" stroke="#222" stroke-width="0.08">Total cells</text>
<path d="M256.30,123.30 C258.95,123.78 266.90,125.65 272.20,126.20 C277.50,126.75 282.80,126.48 288.10,126.60 C293.40,126.72 298.70,126.83 304.00,126.90 C309.30,126.97 314.60,126.98 319.90,127.00 C325.20,127.02 330.50,127.00 335.80,127.00 C341.10,127.00 349.05,127.00 351.70,127.00" stroke="#1d4e78" stroke-width="0.75" fill="none"/>
<circle cx="256.30" cy="123.30" r="1.6" fill="#1d4e78"/>
<circle cx="272.20" cy="126.20" r="1.6" fill="#1d4e78"/>
<circle cx="288.10" cy="126.60" r="1.6" fill="#1d4e78"/>
<circle cx="304.00" cy="126.90" r="1.6" fill="#1d4e78"/>
<circle cx="319.90" cy="127.00" r="1.6" fill="#1d4e78"/>
<circle cx="335.80" cy="127.00" r="1.6" fill="#1d4e78"/>
<circle cx="351.70" cy="127.00" r="1.6" fill="#1d4e78"/>
<path d="M256.30,123.30 C258.95,123.13 266.90,122.45 272.20,122.30 C277.50,122.15 282.80,122.28 288.10,122.40 C293.40,122.52 298.70,123.15 304.00,123.00 C309.30,122.85 314.60,122.27 319.90,121.50 C325.20,120.73 330.50,119.65 335.80,118.40 C341.10,117.15 349.05,114.73 351.70,114.00" stroke="#c0173f" stroke-width="0.75" fill="none"/>
<circle cx="256.30" cy="123.30" r="1.6" fill="#c0173f"/>
<circle cx="272.20" cy="122.30" r="1.6" fill="#c0173f"/>
<circle cx="288.10" cy="122.40" r="1.6" fill="#c0173f"/>
<circle cx="304.00" cy="123.00" r="1.6" fill="#c0173f"/>
<line x1="319.90" y1="120.50" x2="319.90" y2="122.50" stroke="#c0173f" stroke-width="0.6"/>
<line x1="318.90" y1="120.50" x2="320.90" y2="120.50" stroke="#c0173f" stroke-width="0.6"/>
<line x1="318.90" y1="122.50" x2="320.90" y2="122.50" stroke="#c0173f" stroke-width="0.6"/>
<circle cx="319.90" cy="121.50" r="1.6" fill="#c0173f"/>
<line x1="335.80" y1="116.90" x2="335.80" y2="119.90" stroke="#c0173f" stroke-width="0.6"/>
<line x1="334.80" y1="116.90" x2="336.80" y2="116.90" stroke="#c0173f" stroke-width="0.6"/>
<line x1="334.80" y1="119.90" x2="336.80" y2="119.90" stroke="#c0173f" stroke-width="0.6"/>
<circle cx="335.80" cy="118.40" r="1.6" fill="#c0173f"/>
<line x1="351.70" y1="110.00" x2="351.70" y2="118.00" stroke="#c0173f" stroke-width="0.6"/>
<line x1="350.70" y1="110.00" x2="352.70" y2="110.00" stroke="#c0173f" stroke-width="0.6"/>
<line x1="350.70" y1="118.00" x2="352.70" y2="118.00" stroke="#c0173f" stroke-width="0.6"/>
<circle cx="351.70" cy="114.00" r="1.6" fill="#c0173f"/>
<path d="M256.30,123.30 C258.95,122.47 266.90,119.42 272.20,118.30 C277.50,117.18 282.80,116.98 288.10,116.60 C293.40,116.22 298.70,118.10 304.00,116.00 C309.30,113.90 314.60,108.37 319.90,104.00 C325.20,99.63 330.50,97.52 335.80,89.80 C341.10,82.08 349.05,63.05 351.70,57.70" stroke="#62bf62" stroke-width="0.75" fill="none"/>
<circle cx="256.30" cy="123.30" r="1.6" fill="#3f9a3f"/>
<line x1="272.20" y1="117.30" x2="272.20" y2="119.30" stroke="#4cae4c" stroke-width="0.6"/>
<line x1="271.20" y1="117.30" x2="273.20" y2="117.30" stroke="#4cae4c" stroke-width="0.6"/>
<line x1="271.20" y1="119.30" x2="273.20" y2="119.30" stroke="#4cae4c" stroke-width="0.6"/>
<circle cx="272.20" cy="118.30" r="1.6" fill="#3f9a3f"/>
<circle cx="288.10" cy="116.60" r="1.6" fill="#3f9a3f"/>
<circle cx="304.00" cy="116.00" r="1.6" fill="#3f9a3f"/>
<line x1="319.90" y1="101.00" x2="319.90" y2="107.00" stroke="#4cae4c" stroke-width="0.6"/>
<line x1="318.90" y1="101.00" x2="320.90" y2="101.00" stroke="#4cae4c" stroke-width="0.6"/>
<line x1="318.90" y1="107.00" x2="320.90" y2="107.00" stroke="#4cae4c" stroke-width="0.6"/>
<circle cx="319.90" cy="104.00" r="1.6" fill="#3f9a3f"/>
<line x1="335.80" y1="87.30" x2="335.80" y2="92.30" stroke="#4cae4c" stroke-width="0.6"/>
<line x1="334.80" y1="87.30" x2="336.80" y2="87.30" stroke="#4cae4c" stroke-width="0.6"/>
<line x1="334.80" y1="92.30" x2="336.80" y2="92.30" stroke="#4cae4c" stroke-width="0.6"/>
<circle cx="335.80" cy="89.80" r="1.6" fill="#3f9a3f"/>
<line x1="351.70" y1="55.20" x2="351.70" y2="60.20" stroke="#4cae4c" stroke-width="0.6"/>
<line x1="350.70" y1="55.20" x2="352.70" y2="55.20" stroke="#4cae4c" stroke-width="0.6"/>
<line x1="350.70" y1="60.20" x2="352.70" y2="60.20" stroke="#4cae4c" stroke-width="0.6"/>
<circle cx="351.70" cy="57.70" r="1.6" fill="#3f9a3f"/>
<text x="272.20" y="112.00" font-size="5" text-anchor="middle" fill="#c84a68" font-weight="normal" font-style="normal" letter-spacing="0.4" stroke="#c84a68" stroke-width="0.1">**</text>
<text x="272.20" y="116.00" font-size="5" text-anchor="middle" fill="#5a7898" font-weight="normal" font-style="normal" letter-spacing="0.4" stroke="#5a7898" stroke-width="0.1">**</text>
<text x="288.10" y="111.00" font-size="5" text-anchor="middle" fill="#c84a68" font-weight="normal" font-style="normal" letter-spacing="0.4" stroke="#c84a68" stroke-width="0.1">*</text>
<text x="288.10" y="115.00" font-size="5" text-anchor="middle" fill="#5a7898" font-weight="normal" font-style="normal" letter-spacing="0.4" stroke="#5a7898" stroke-width="0.1">*</text>
<text x="304.00" y="109.50" font-size="5" text-anchor="middle" fill="#c84a68" font-weight="normal" font-style="normal" letter-spacing="0.4" stroke="#c84a68" stroke-width="0.1">***</text>
<text x="304.00" y="113.50" font-size="5" text-anchor="middle" fill="#5a7898" font-weight="normal" font-style="normal" letter-spacing="0.4" stroke="#5a7898" stroke-width="0.1">**</text>
<text x="319.90" y="96.00" font-size="5" text-anchor="middle" fill="#c84a68" font-weight="normal" font-style="normal" letter-spacing="0.4" stroke="#c84a68" stroke-width="0.1">*</text>
<text x="319.90" y="100.00" font-size="5" text-anchor="middle" fill="#5a7898" font-weight="normal" font-style="normal" letter-spacing="0.4" stroke="#5a7898" stroke-width="0.1">*</text>
<text x="335.80" y="82.40" font-size="5" text-anchor="middle" fill="#c84a68" font-weight="normal" font-style="normal" letter-spacing="0.4" stroke="#c84a68" stroke-width="0.1">**</text>
<text x="335.80" y="86.50" font-size="5" text-anchor="middle" fill="#5a7898" font-weight="normal" font-style="normal" letter-spacing="0.4" stroke="#5a7898" stroke-width="0.1">**</text>
<text x="351.70" y="49.80" font-size="5" text-anchor="middle" fill="#c84a68" font-weight="normal" font-style="normal" letter-spacing="0.4" stroke="#c84a68" stroke-width="0.1">***</text>
<text x="351.70" y="54.40" font-size="5" text-anchor="middle" fill="#5a7898" font-weight="normal" font-style="normal" letter-spacing="0.4" stroke="#5a7898" stroke-width="0.1">**</text>
<line x1="256.40" y1="46.70" x2="267.60" y2="46.70" stroke="#4cae4c" stroke-width="0.9"/>
<circle cx="261.90" cy="46.70" r="1.9" fill="#4cae4c"/>
<text x="270.70" y="48.80" font-size="6" text-anchor="start" fill="#222" font-weight="normal" font-style="normal" stroke="#222" stroke-width="0.1"><tspan font-style="italic">shGFP</tspan></text>
<line x1="256.40" y1="56.35" x2="267.60" y2="56.35" stroke="#c0173f" stroke-width="0.9"/>
<circle cx="261.90" cy="56.35" r="1.9" fill="#c0173f"/>
<text x="270.70" y="58.45" font-size="6" text-anchor="start" fill="#222" font-weight="normal" font-style="normal" stroke="#222" stroke-width="0.1"><tspan font-style="italic">shYAP1</tspan> #1</text>
<line x1="256.40" y1="66.00" x2="267.60" y2="66.00" stroke="#1d4e78" stroke-width="0.9"/>
<circle cx="261.90" cy="66.00" r="1.9" fill="#1d4e78"/>
<text x="270.70" y="68.10" font-size="6" text-anchor="start" fill="#222" font-weight="normal" font-style="normal" stroke="#222" stroke-width="0.1"><tspan font-style="italic">shYAP1</tspan> #2</text>
<text x="0.00" y="0.00" font-size="11" text-anchor="start" fill="#111" font-weight="bold" font-style="normal" transform="translate(372.60,16.00) scale(0.97,1)" stroke="#111" stroke-width="0.3">E</text>
<rect x="411.50" y="61.50" width="86.00" height="16.00" fill="#f8f8f8" stroke="#333" stroke-width="1"/>
<rect x="411.50" y="83.50" width="86.00" height="17.00" fill="#f8f8f8" stroke="#333" stroke-width="1"/>
<text x="409.00" y="71.60" font-size="6" text-anchor="end" fill="#222" font-weight="normal" font-style="normal" stroke="#222" stroke-width="0.1">YAP1</text>
<text x="409.00" y="94.20" font-size="6" text-anchor="end" fill="#222" font-weight="normal" font-style="normal" stroke="#222" stroke-width="0.1">Lamin B1</text>
<text x="503.40" y="56.70" font-size="6" text-anchor="start" fill="#222" font-weight="normal" font-style="normal" stroke="#222" stroke-width="0.1">kDa</text>
<line x1="497.90" y1="67.30" x2="500.40" y2="67.30" stroke="#222" stroke-width="0.9"/>
<text x="503.40" y="69.40" font-size="6" text-anchor="start" fill="#222" font-weight="normal" font-style="normal" stroke="#222" stroke-width="0.1">66</text>
<line x1="497.90" y1="92.20" x2="500.40" y2="92.20" stroke="#222" stroke-width="0.9"/>
<text x="503.40" y="94.30" font-size="6" text-anchor="start" fill="#222" font-weight="normal" font-style="normal" stroke="#222" stroke-width="0.1">66</text>
<rect x="414.30" y="65.80" width="24.90" height="6.80" fill="url(#g8)" stroke="none" stroke-width="1" filter="url(#bl2)"/>
<rect x="469.70" y="66.30" width="24.90" height="6.50" fill="url(#g9)" stroke="none" stroke-width="1" filter="url(#bl2)"/>
<rect x="414.30" y="86.00" width="25.20" height="10.40" fill="url(#g10)" stroke="none" stroke-width="1" filter="url(#bl2)"/>
<rect x="442.20" y="85.00" width="25.20" height="12.80" fill="url(#g11)" stroke="none" stroke-width="1" filter="url(#bl2)"/>
<rect x="470.40" y="86.00" width="24.90" height="10.40" fill="url(#g12)" stroke="none" stroke-width="1" filter="url(#bl2)"/>
<text x="0.00" y="0.00" font-size="6" text-anchor="end" fill="#222" font-weight="normal" font-style="normal" transform="translate(429.40,105.60) rotate(-45)" stroke="#222" stroke-width="0.1"><tspan font-style="italic">shGFP</tspan></text>
<text x="0.00" y="0.00" font-size="6" text-anchor="end" fill="#222" font-weight="normal" font-style="normal" transform="translate(458.30,105.60) rotate(-45)" stroke="#222" stroke-width="0.1"><tspan font-style="italic">shYAP1</tspan> #1</text>
<text x="0.00" y="0.00" font-size="6" text-anchor="end" fill="#222" font-weight="normal" font-style="normal" transform="translate(487.50,105.60) rotate(-45)" stroke="#222" stroke-width="0.1"><tspan font-style="italic">shYAP1</tspan> #2</text>
<line x1="411.60" y1="130.50" x2="497.30" y2="130.50" stroke="#333" stroke-width="1"/>
<text x="454.60" y="139.00" font-size="6" text-anchor="middle" fill="#222" font-weight="normal" font-style="normal" stroke="#222" stroke-width="0.1">Toledo</text>
<text x="0.00" y="0.00" font-size="11" text-anchor="start" fill="#111" font-weight="bold" font-style="normal" transform="translate(216.40,184.40) scale(0.97,1)" stroke="#111" stroke-width="0.3">F</text>
<line x1="251.00" y1="201.50" x2="251.00" y2="279.10" stroke="#222" stroke-width="1.1"/>
<line x1="250.50" y1="278.60" x2="355.00" y2="278.60" stroke="#222" stroke-width="1.1"/>
<line x1="248.60" y1="274.00" x2="251.00" y2="274.00" stroke="#222" stroke-width="0.9"/>
<text x="244.40" y="276.10" font-size="5.9" text-anchor="end" fill="#222" font-weight="normal" font-style="normal" stroke="#222" stroke-width="0.1">0</text>
<line x1="248.60" y1="251.73" x2="251.00" y2="251.73" stroke="#222" stroke-width="0.9"/>
<text x="244.40" y="253.83" font-size="5.9" text-anchor="end" fill="#222" font-weight="normal" font-style="normal" stroke="#222" stroke-width="0.1">100</text>
<line x1="248.60" y1="229.46" x2="251.00" y2="229.46" stroke="#222" stroke-width="0.9"/>
<text x="244.40" y="231.56" font-size="5.9" text-anchor="end" fill="#222" font-weight="normal" font-style="normal" stroke="#222" stroke-width="0.1">200</text>
<line x1="248.60" y1="207.19" x2="251.00" y2="207.19" stroke="#222" stroke-width="0.9"/>
<text x="244.40" y="209.29" font-size="5.9" text-anchor="end" fill="#222" font-weight="normal" font-style="normal" stroke="#222" stroke-width="0.1">300</text>
<line x1="256.20" y1="278.60" x2="256.20" y2="281.10" stroke="#222" stroke-width="0.9"/>
<text x="256.20" y="289.50" font-size="5.8" text-anchor="middle" fill="#222" font-weight="normal" font-style="normal" stroke="#222" stroke-width="0.1">0</text>
<line x1="270.95" y1="278.60" x2="270.95" y2="281.10" stroke="#222" stroke-width="0.9"/>
<text x="270.95" y="289.50" font-size="5.8" text-anchor="middle" fill="#222" font-weight="normal" font-style="normal" stroke="#222" stroke-width="0.1">5</text>
<line x1="285.70" y1="278.60" x2="285.70" y2="281.10" stroke="#222" stroke-width="0.9"/>
<text x="285.70" y="289.50" font-size="5.8" text-anchor="middle" fill="#222" font-weight="normal" font-style="normal" stroke="#222" stroke-width="0.1">10</text>
<line x1="300.45" y1="278.60" x2="300.45" y2="281.10" stroke="#222" stroke-width="0.9"/>
<text x="300.45" y="289.50" font-size="5.8" text-anchor="middle" fill="#222" font-weight="normal" font-style="normal" stroke="#222" stroke-width="0.1">15</text>
<line x1="315.20" y1="278.60" x2="315.20" y2="281.10" stroke="#222" stroke-width="0.9"/>
<text x="315.20" y="289.50" font-size="5.8" text-anchor="middle" fill="#222" font-weight="normal" font-style="normal" stroke="#222" stroke-width="0.1">20</text>
<line x1="329.95" y1="278.60" x2="329.95" y2="281.10" stroke="#222" stroke-width="0.9"/>
<text x="329.95" y="289.50" font-size="5.8" text-anchor="middle" fill="#222" font-weight="normal" font-style="normal" stroke="#222" stroke-width="0.1">25</text>
<line x1="344.70" y1="278.60" x2="344.70" y2="281.10" stroke="#222" stroke-width="0.9"/>
<text x="344.70" y="289.50" font-size="5.8" text-anchor="middle" fill="#222" font-weight="normal" font-style="normal" stroke="#222" stroke-width="0.1">30</text>
<text x="0.00" y="0.00" font-size="8" text-anchor="middle" fill="#222" font-weight="bold" font-style="normal" transform="translate(305.40,302.00) scale(0.65,1)" stroke="#222" stroke-width="0.08">Days after transplant</text>
<text x="0.00" y="0.00" font-size="8" text-anchor="middle" fill="#222" font-weight="bold" font-style="normal" transform="translate(229.00,241.20) rotate(-90) scale(0.67,1)" stroke="#222" stroke-width="0.08">Tumor volume (mm<tspan font-size="5" dy="-2.6">3</tspan><tspan dy="2.6">)</tspan></text>
<path d="M256.20,274.00 L276.60,246.90" stroke="#c2183f" stroke-width="0.8" fill="none"/>
<path d="M276.60,246.90 L282.50,250.30 L288.50,256.60 L297.20,254.30 L303.20,253.40 L309.30,255.20 L318.10,252.60 L324.00,253.40 L329.70,251.70 L338.70,248.60 L344.40,247.00 L350.10,246.20" stroke="#c2183f" stroke-width="0.9" fill="none"/>
<path d="M276.60,246.90 L282.50,243.90 L288.50,246.50 L297.20,245.30 L303.20,240.10 L309.30,245.30 L318.10,238.40 L324.00,239.60 L329.70,237.50 L338.70,233.20 L344.40,231.00 L350.10,226.10" stroke="#235b82" stroke-width="0.9" fill="none"/>
<line x1="282.50" y1="247.30" x2="282.50" y2="253.30" stroke="#c2183f" stroke-width="0.6"/>
<line x1="281.50" y1="253.30" x2="283.50" y2="253.30" stroke="#c2183f" stroke-width="0.6"/>
<line x1="281.50" y1="247.30" x2="283.50" y2="247.30" stroke="#c2183f" stroke-width="0.6"/>
<circle cx="282.50" cy="250.30" r="1.6" fill="#c2183f"/>
<line x1="288.50" y1="252.60" x2="288.50" y2="260.60" stroke="#c2183f" stroke-width="0.6"/>
<line x1="287.50" y1="260.60" x2="289.50" y2="260.60" stroke="#c2183f" stroke-width="0.6"/>
<line x1="287.50" y1="252.60" x2="289.50" y2="252.60" stroke="#c2183f" stroke-width="0.6"/>
<circle cx="288.50" cy="256.60" r="1.6" fill="#c2183f"/>
<line x1="297.20" y1="250.30" x2="297.20" y2="258.30" stroke="#c2183f" stroke-width="0.6"/>
<line x1="296.20" y1="258.30" x2="298.20" y2="258.30" stroke="#c2183f" stroke-width="0.6"/>
<line x1="296.20" y1="250.30" x2="298.20" y2="250.30" stroke="#c2183f" stroke-width="0.6"/>
<circle cx="297.20" cy="254.30" r="1.6" fill="#c2183f"/>
<line x1="303.20" y1="248.40" x2="303.20" y2="258.40" stroke="#c2183f" stroke-width="0.6"/>
<line x1="302.20" y1="258.40" x2="304.20" y2="258.40" stroke="#c2183f" stroke-width="0.6"/>
<line x1="302.20" y1="248.40" x2="304.20" y2="248.40" stroke="#c2183f" stroke-width="0.6"/>
<circle cx="303.20" cy="253.40" r="1.6" fill="#c2183f"/>
<line x1="309.30" y1="251.20" x2="309.30" y2="259.20" stroke="#c2183f" stroke-width="0.6"/>
<line x1="308.30" y1="259.20" x2="310.30" y2="259.20" stroke="#c2183f" stroke-width="0.6"/>
<line x1="308.30" y1="251.20" x2="310.30" y2="251.20" stroke="#c2183f" stroke-width="0.6"/>
<circle cx="309.30" cy="255.20" r="1.6" fill="#c2183f"/>
<line x1="318.10" y1="247.60" x2="318.10" y2="257.60" stroke="#c2183f" stroke-width="0.6"/>
<line x1="317.10" y1="257.60" x2="319.10" y2="257.60" stroke="#c2183f" stroke-width="0.6"/>
<line x1="317.10" y1="247.60" x2="319.10" y2="247.60" stroke="#c2183f" stroke-width="0.6"/>
<circle cx="318.10" cy="252.60" r="1.6" fill="#c2183f"/>
<line x1="324.00" y1="248.40" x2="324.00" y2="258.40" stroke="#c2183f" stroke-width="0.6"/>
<line x1="323.00" y1="258.40" x2="325.00" y2="258.40" stroke="#c2183f" stroke-width="0.6"/>
<line x1="323.00" y1="248.40" x2="325.00" y2="248.40" stroke="#c2183f" stroke-width="0.6"/>
<circle cx="324.00" cy="253.40" r="1.6" fill="#c2183f"/>
<line x1="329.70" y1="246.70" x2="329.70" y2="256.70" stroke="#c2183f" stroke-width="0.6"/>
<line x1="328.70" y1="256.70" x2="330.70" y2="256.70" stroke="#c2183f" stroke-width="0.6"/>
<line x1="328.70" y1="246.70" x2="330.70" y2="246.70" stroke="#c2183f" stroke-width="0.6"/>
<circle cx="329.70" cy="251.70" r="1.6" fill="#c2183f"/>
<line x1="338.70" y1="242.60" x2="338.70" y2="254.60" stroke="#c2183f" stroke-width="0.6"/>
<line x1="337.70" y1="254.60" x2="339.70" y2="254.60" stroke="#c2183f" stroke-width="0.6"/>
<line x1="337.70" y1="242.60" x2="339.70" y2="242.60" stroke="#c2183f" stroke-width="0.6"/>
<circle cx="338.70" cy="248.60" r="1.6" fill="#c2183f"/>
<line x1="344.40" y1="240.00" x2="344.40" y2="254.00" stroke="#c2183f" stroke-width="0.6"/>
<line x1="343.40" y1="254.00" x2="345.40" y2="254.00" stroke="#c2183f" stroke-width="0.6"/>
<line x1="343.40" y1="240.00" x2="345.40" y2="240.00" stroke="#c2183f" stroke-width="0.6"/>
<circle cx="344.40" cy="247.00" r="1.6" fill="#c2183f"/>
<line x1="350.10" y1="238.20" x2="350.10" y2="254.20" stroke="#c2183f" stroke-width="0.6"/>
<line x1="349.10" y1="254.20" x2="351.10" y2="254.20" stroke="#c2183f" stroke-width="0.6"/>
<line x1="349.10" y1="238.20" x2="351.10" y2="238.20" stroke="#c2183f" stroke-width="0.6"/>
<circle cx="350.10" cy="246.20" r="1.6" fill="#c2183f"/>
<line x1="282.50" y1="238.90" x2="282.50" y2="248.90" stroke="#235b82" stroke-width="0.6"/>
<line x1="281.50" y1="248.90" x2="283.50" y2="248.90" stroke="#235b82" stroke-width="0.6"/>
<line x1="281.50" y1="238.90" x2="283.50" y2="238.90" stroke="#235b82" stroke-width="0.6"/>
<circle cx="282.50" cy="243.90" r="1.6" fill="#235b82"/>
<line x1="288.50" y1="240.50" x2="288.50" y2="252.50" stroke="#235b82" stroke-width="0.6"/>
<line x1="287.50" y1="252.50" x2="289.50" y2="252.50" stroke="#235b82" stroke-width="0.6"/>
<line x1="287.50" y1="240.50" x2="289.50" y2="240.50" stroke="#235b82" stroke-width="0.6"/>
<circle cx="288.50" cy="246.50" r="1.6" fill="#235b82"/>
<line x1="297.20" y1="239.30" x2="297.20" y2="251.30" stroke="#235b82" stroke-width="0.6"/>
<line x1="296.20" y1="251.30" x2="298.20" y2="251.30" stroke="#235b82" stroke-width="0.6"/>
<line x1="296.20" y1="239.30" x2="298.20" y2="239.30" stroke="#235b82" stroke-width="0.6"/>
<circle cx="297.20" cy="245.30" r="1.6" fill="#235b82"/>
<line x1="303.20" y1="233.10" x2="303.20" y2="247.10" stroke="#235b82" stroke-width="0.6"/>
<line x1="302.20" y1="247.10" x2="304.20" y2="247.10" stroke="#235b82" stroke-width="0.6"/>
<line x1="302.20" y1="233.10" x2="304.20" y2="233.10" stroke="#235b82" stroke-width="0.6"/>
<circle cx="303.20" cy="240.10" r="1.6" fill="#235b82"/>
<line x1="309.30" y1="239.30" x2="309.30" y2="251.30" stroke="#235b82" stroke-width="0.6"/>
<line x1="308.30" y1="251.30" x2="310.30" y2="251.30" stroke="#235b82" stroke-width="0.6"/>
<line x1="308.30" y1="239.30" x2="310.30" y2="239.30" stroke="#235b82" stroke-width="0.6"/>
<circle cx="309.30" cy="245.30" r="1.6" fill="#235b82"/>
<line x1="318.10" y1="230.40" x2="318.10" y2="246.40" stroke="#235b82" stroke-width="0.6"/>
<line x1="317.10" y1="246.40" x2="319.10" y2="246.40" stroke="#235b82" stroke-width="0.6"/>
<line x1="317.10" y1="230.40" x2="319.10" y2="230.40" stroke="#235b82" stroke-width="0.6"/>
<circle cx="318.10" cy="238.40" r="1.6" fill="#235b82"/>
<line x1="324.00" y1="231.60" x2="324.00" y2="247.60" stroke="#235b82" stroke-width="0.6"/>
<line x1="323.00" y1="247.60" x2="325.00" y2="247.60" stroke="#235b82" stroke-width="0.6"/>
<line x1="323.00" y1="231.60" x2="325.00" y2="231.60" stroke="#235b82" stroke-width="0.6"/>
<circle cx="324.00" cy="239.60" r="1.6" fill="#235b82"/>
<line x1="329.70" y1="228.50" x2="329.70" y2="246.50" stroke="#235b82" stroke-width="0.6"/>
<line x1="328.70" y1="246.50" x2="330.70" y2="246.50" stroke="#235b82" stroke-width="0.6"/>
<line x1="328.70" y1="228.50" x2="330.70" y2="228.50" stroke="#235b82" stroke-width="0.6"/>
<circle cx="329.70" cy="237.50" r="1.6" fill="#235b82"/>
<line x1="338.70" y1="223.20" x2="338.70" y2="243.20" stroke="#235b82" stroke-width="0.6"/>
<line x1="337.70" y1="243.20" x2="339.70" y2="243.20" stroke="#235b82" stroke-width="0.6"/>
<line x1="337.70" y1="223.20" x2="339.70" y2="223.20" stroke="#235b82" stroke-width="0.6"/>
<circle cx="338.70" cy="233.20" r="1.6" fill="#235b82"/>
<line x1="344.40" y1="219.00" x2="344.40" y2="243.00" stroke="#235b82" stroke-width="0.6"/>
<line x1="343.40" y1="243.00" x2="345.40" y2="243.00" stroke="#235b82" stroke-width="0.6"/>
<line x1="343.40" y1="219.00" x2="345.40" y2="219.00" stroke="#235b82" stroke-width="0.6"/>
<circle cx="344.40" cy="231.00" r="1.6" fill="#235b82"/>
<line x1="350.10" y1="211.10" x2="350.10" y2="241.10" stroke="#235b82" stroke-width="0.6"/>
<line x1="349.10" y1="241.10" x2="351.10" y2="241.10" stroke="#235b82" stroke-width="0.6"/>
<line x1="349.10" y1="211.10" x2="351.10" y2="211.10" stroke="#235b82" stroke-width="0.6"/>
<circle cx="350.10" cy="226.10" r="1.6" fill="#235b82"/>
<line x1="276.60" y1="243.50" x2="276.60" y2="250.50" stroke="#235b82" stroke-width="0.6"/>
<circle cx="276.60" cy="246.90" r="1.6" fill="#235b82"/>
<circle cx="256.20" cy="274.00" r="1.3" fill="#222"/>
<text x="282.50" y="237.10" font-size="5" text-anchor="middle" fill="#333" font-weight="normal" font-style="normal" stroke="#333" stroke-width="0.1">*</text>
<text x="288.50" y="239.30" font-size="5" text-anchor="middle" fill="#333" font-weight="normal" font-style="normal" stroke="#333" stroke-width="0.1">**</text>
<text x="297.20" y="238.40" font-size="5" text-anchor="middle" fill="#333" font-weight="normal" font-style="normal" stroke="#333" stroke-width="0.1">*</text>
<text x="303.20" y="231.00" font-size="5" text-anchor="middle" fill="#333" font-weight="normal" font-style="normal" stroke="#333" stroke-width="0.1">**</text>
<text x="309.30" y="238.40" font-size="5" text-anchor="middle" fill="#333" font-weight="normal" font-style="normal" stroke="#333" stroke-width="0.1">**</text>
<text x="318.10" y="229.40" font-size="5" text-anchor="middle" fill="#333" font-weight="normal" font-style="normal" stroke="#333" stroke-width="0.1">**</text>
<text x="324.00" y="230.70" font-size="5" text-anchor="middle" fill="#333" font-weight="normal" font-style="normal" stroke="#333" stroke-width="0.1">**</text>
<text x="329.70" y="227.70" font-size="5" text-anchor="middle" fill="#333" font-weight="normal" font-style="normal" stroke="#333" stroke-width="0.1">*</text>
<text x="338.70" y="223.70" font-size="5" text-anchor="middle" fill="#333" font-weight="normal" font-style="normal" stroke="#333" stroke-width="0.1">**</text>
<text x="344.40" y="217.70" font-size="5" text-anchor="middle" fill="#333" font-weight="normal" font-style="normal" stroke="#333" stroke-width="0.1">*</text>
<text x="350.10" y="210.40" font-size="5" text-anchor="middle" fill="#333" font-weight="normal" font-style="normal" stroke="#333" stroke-width="0.1">*</text>
<circle cx="259.00" cy="199.20" r="1.9" fill="#235b82"/>
<circle cx="259.00" cy="208.80" r="1.9" fill="#c2183f"/>
<text x="264.00" y="201.30" font-size="6" text-anchor="start" fill="#222" font-weight="normal" font-style="normal" stroke="#222" stroke-width="0.1">Vehicle (<tspan font-style="italic">n</tspan> = 7)</text>
<text x="264.00" y="210.90" font-size="6" text-anchor="start" fill="#222" font-weight="normal" font-style="normal" stroke="#222" stroke-width="0.1">CA3 (<tspan font-style="italic">n</tspan> = 7)</text>
<text x="0.00" y="0.00" font-size="11" text-anchor="start" fill="#111" font-weight="bold" font-style="normal" transform="translate(372.80,184.60) scale(0.97,1)" stroke="#111" stroke-width="0.3">G</text>
<line x1="402.30" y1="198.50" x2="402.30" y2="279.00" stroke="#222" stroke-width="1.1"/>
<line x1="401.80" y1="278.50" x2="509.20" y2="278.50" stroke="#222" stroke-width="1.1"/>
<line x1="399.90" y1="274.30" x2="402.30" y2="274.30" stroke="#222" stroke-width="0.9"/>
<text x="395.90" y="276.40" font-size="5.8" text-anchor="end" fill="#222" font-weight="normal" font-style="normal" stroke="#222" stroke-width="0.1">0</text>
<line x1="399.90" y1="256.15" x2="402.30" y2="256.15" stroke="#222" stroke-width="0.9"/>
<text x="395.90" y="258.25" font-size="5.8" text-anchor="end" fill="#222" font-weight="normal" font-style="normal" stroke="#222" stroke-width="0.1">0.25</text>
<line x1="399.90" y1="238.00" x2="402.30" y2="238.00" stroke="#222" stroke-width="0.9"/>
<text x="395.90" y="240.10" font-size="5.8" text-anchor="end" fill="#222" font-weight="normal" font-style="normal" stroke="#222" stroke-width="0.1">0.5</text>
<line x1="399.90" y1="219.85" x2="402.30" y2="219.85" stroke="#222" stroke-width="0.9"/>
<text x="395.90" y="221.95" font-size="5.8" text-anchor="end" fill="#222" font-weight="normal" font-style="normal" stroke="#222" stroke-width="0.1">0.75</text>
<line x1="399.90" y1="201.70" x2="402.30" y2="201.70" stroke="#222" stroke-width="0.9"/>
<text x="395.90" y="203.80" font-size="5.8" text-anchor="end" fill="#222" font-weight="normal" font-style="normal" stroke="#222" stroke-width="0.1">1</text>
<line x1="407.00" y1="278.50" x2="407.00" y2="281.00" stroke="#222" stroke-width="0.9"/>
<text x="407.00" y="290.20" font-size="5.8" text-anchor="middle" fill="#222" font-weight="normal" font-style="normal" stroke="#222" stroke-width="0.1">0</text>
<line x1="420.88" y1="278.50" x2="420.88" y2="281.00" stroke="#222" stroke-width="0.9"/>
<text x="420.88" y="290.20" font-size="5.8" text-anchor="middle" fill="#222" font-weight="normal" font-style="normal" stroke="#222" stroke-width="0.1">5</text>
<line x1="434.76" y1="278.50" x2="434.76" y2="281.00" stroke="#222" stroke-width="0.9"/>
<text x="434.76" y="290.20" font-size="5.8" text-anchor="middle" fill="#222" font-weight="normal" font-style="normal" stroke="#222" stroke-width="0.1">10</text>
<line x1="448.64" y1="278.50" x2="448.64" y2="281.00" stroke="#222" stroke-width="0.9"/>
<text x="448.64" y="290.20" font-size="5.8" text-anchor="middle" fill="#222" font-weight="normal" font-style="normal" stroke="#222" stroke-width="0.1">15</text>
<line x1="462.52" y1="278.50" x2="462.52" y2="281.00" stroke="#222" stroke-width="0.9"/>
<text x="462.52" y="290.20" font-size="5.8" text-anchor="middle" fill="#222" font-weight="normal" font-style="normal" stroke="#222" stroke-width="0.1">20</text>
<line x1="476.40" y1="278.50" x2="476.40" y2="281.00" stroke="#222" stroke-width="0.9"/>
<text x="476.40" y="290.20" font-size="5.8" text-anchor="middle" fill="#222" font-weight="normal" font-style="normal" stroke="#222" stroke-width="0.1">25</text>
<line x1="490.28" y1="278.50" x2="490.28" y2="281.00" stroke="#222" stroke-width="0.9"/>
<text x="490.28" y="290.20" font-size="5.8" text-anchor="middle" fill="#222" font-weight="normal" font-style="normal" stroke="#222" stroke-width="0.1">30</text>
<line x1="504.16" y1="278.50" x2="504.16" y2="281.00" stroke="#222" stroke-width="0.9"/>
<text x="504.16" y="290.20" font-size="5.8" text-anchor="middle" fill="#222" font-weight="normal" font-style="normal" stroke="#222" stroke-width="0.1">35</text>
<text x="0.00" y="0.00" font-size="8" text-anchor="middle" fill="#222" font-weight="bold" font-style="normal" transform="translate(456.00,302.20) scale(0.65,1)" stroke="#222" stroke-width="0.08">Days after transplant</text>
<text x="0.00" y="0.00" font-size="8" text-anchor="middle" fill="#222" font-weight="bold" font-style="normal" transform="translate(380.00,240.00) rotate(-90) scale(0.65,1)" stroke="#222" stroke-width="0.08">Survival</text>
<text x="433.80" y="187.00" font-size="6" text-anchor="middle" fill="#222" font-weight="normal" font-style="normal" stroke="#222" stroke-width="0.1">Vehicle or CA3</text>
<line x1="418.50" y1="191.80" x2="418.50" y2="198.00" stroke="#222" stroke-width="0.8"/>
<path d="M417.10,197.2 L419.90,197.2 L418.50,200.6 Z" fill="#111"/>
<line x1="424.70" y1="191.80" x2="424.70" y2="198.00" stroke="#222" stroke-width="0.8"/>
<path d="M423.30,197.2 L426.10,197.2 L424.70,200.6 Z" fill="#111"/>
<line x1="430.40" y1="191.80" x2="430.40" y2="198.00" stroke="#222" stroke-width="0.8"/>
<path d="M429.00,197.2 L431.80,197.2 L430.40,200.6 Z" fill="#111"/>
<line x1="436.80" y1="191.80" x2="436.80" y2="198.00" stroke="#222" stroke-width="0.8"/>
<path d="M435.40,197.2 L438.20,197.2 L436.80,200.6 Z" fill="#111"/>
<line x1="443.50" y1="191.80" x2="443.50" y2="198.00" stroke="#222" stroke-width="0.8"/>
<path d="M442.10,197.2 L444.90,197.2 L443.50,200.6 Z" fill="#111"/>
<line x1="448.50" y1="191.80" x2="448.50" y2="198.00" stroke="#222" stroke-width="0.8"/>
<path d="M447.10,197.2 L449.90,197.2 L448.50,200.6 Z" fill="#111"/>
<path d="M407.00,201.90 L451.30,201.90 L451.30,212.00 L467.70,212.00 L467.70,222.20 L470.40,222.20 L470.40,238.20 L472.80,238.20 L472.80,248.50 L476.90,248.50 L476.90,259.70 L480.00,259.70 L480.00,269.00 L482.50,269.00 L482.50,274.10" stroke="#2f6f8a" stroke-width="1.0" fill="none"/>
<path d="M407.00,202.00 L468.30,202.00 L468.30,206.60 L470.30,206.60 L470.30,214.40 L472.60,214.40 L472.60,220.20 L476.10,220.20 L476.10,233.70 L478.40,233.70 L478.40,247.30 L481.30,247.30 L481.30,257.00 L485.20,257.00 L485.20,261.80 L490.00,261.80 L490.00,265.70 L493.90,265.70 L493.90,269.50 L501.60,269.50 L501.60,274.40" stroke="#c8234b" stroke-width="1.0" fill="none"/>
<text x="408.50" y="252.60" font-size="6" text-anchor="start" fill="#222" font-weight="normal" font-style="normal" stroke="#222" stroke-width="0.1"><tspan font-style="italic">P</tspan> = .0077</text>
<line x1="408.00" y1="259.70" x2="416.80" y2="259.70" stroke="#3a7f96" stroke-width="1.0"/>
<line x1="408.00" y1="269.30" x2="416.80" y2="269.30" stroke="#b02a50" stroke-width="1.0"/>
<text x="419.30" y="261.80" font-size="6" text-anchor="start" fill="#222" font-weight="normal" font-style="normal" stroke="#222" stroke-width="0.1">Vehicle (<tspan font-style="italic">n</tspan> = 14)</text>
<text x="419.30" y="271.30" font-size="6" text-anchor="start" fill="#222" font-weight="normal" font-style="normal" stroke="#222" stroke-width="0.1">CA3 (<tspan font-style="italic">n</tspan> = 16)</text>
<rect x="0" y="0" width="520" height="1" fill="#666"/><rect x="0" y="0" width="1" height="439" fill="#666"/><rect x="519" y="0" width="1" height="439" fill="#3c3c3c"/><rect x="0" y="438" width="520" height="1" fill="#3c3c3c"/>
</g>
</svg>
</body></html>
